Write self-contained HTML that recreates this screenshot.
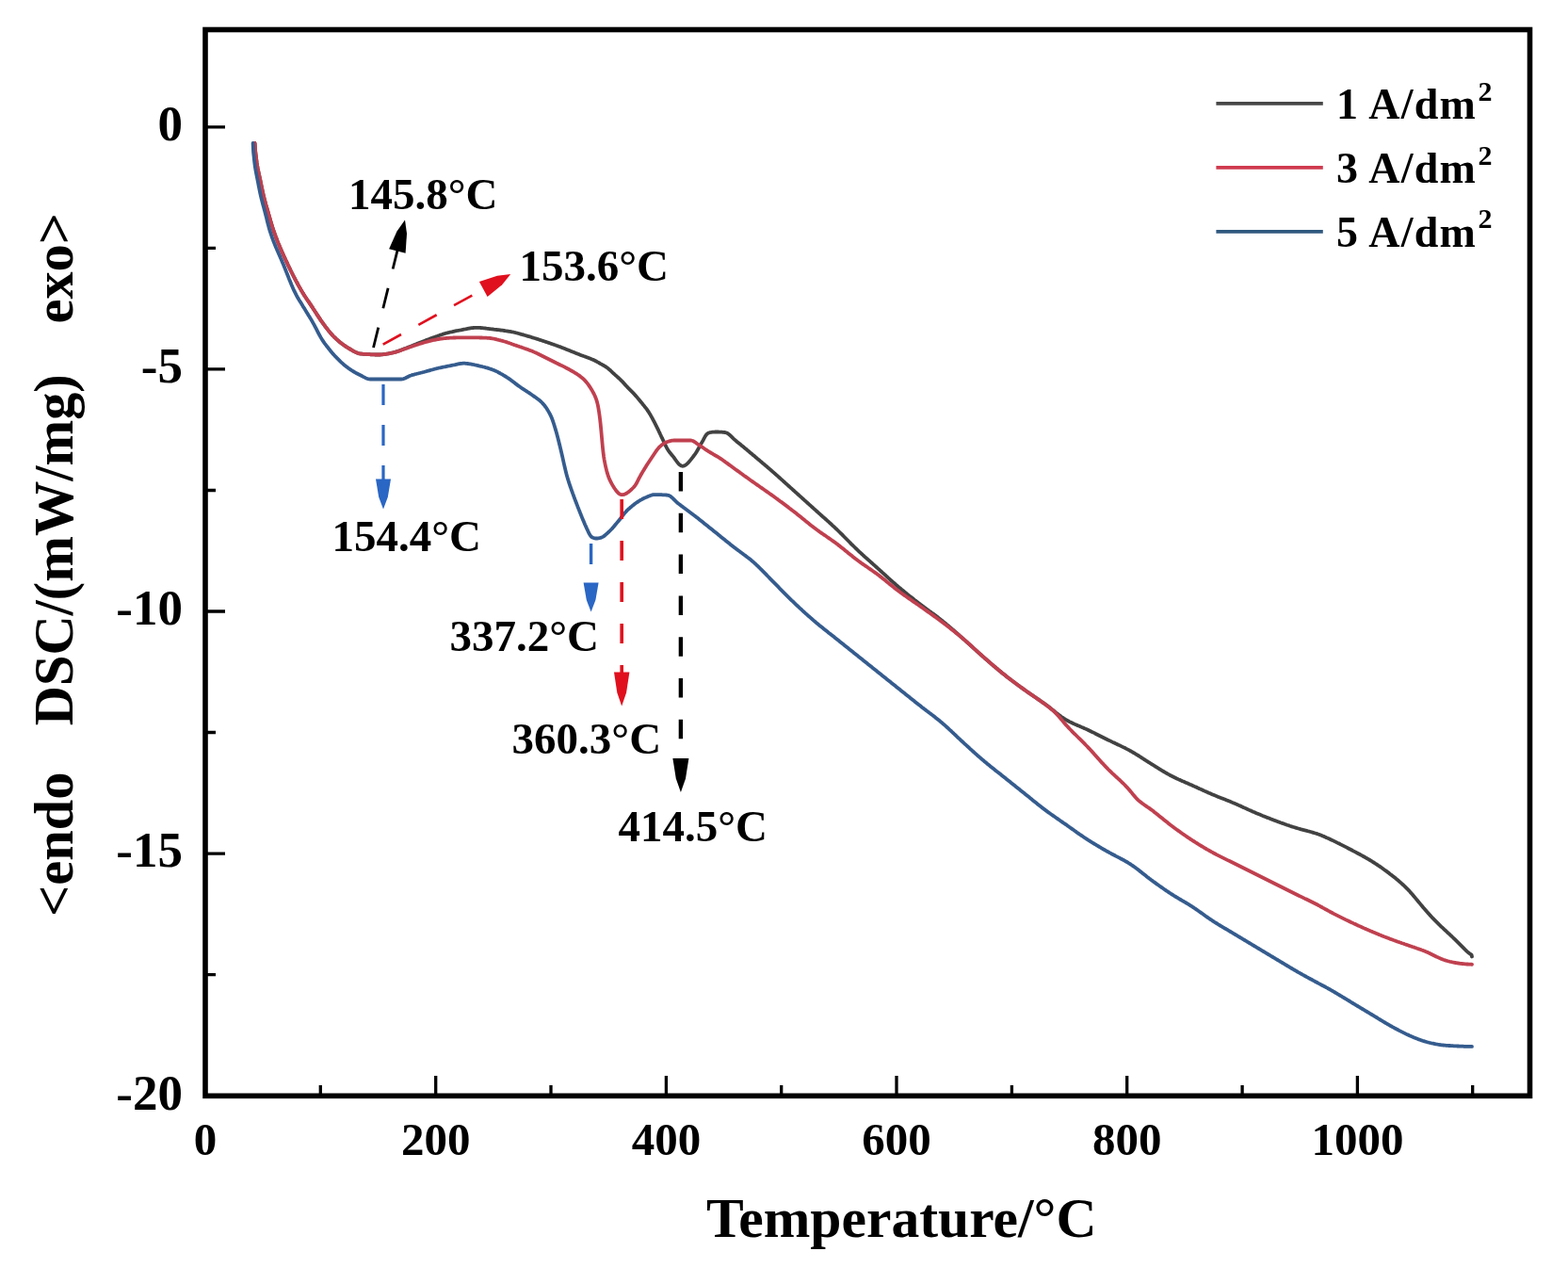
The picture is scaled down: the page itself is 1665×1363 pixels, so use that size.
<!DOCTYPE html>
<html><head><meta charset="utf-8"><title>DSC curves</title>
<style>html,body{margin:0;padding:0;background:#fff;}svg{display:block;}</style>
</head><body>
<svg width="1665" height="1363" viewBox="0 0 1665 1363">
<rect x="218" y="31.5" width="1406.5" height="1131.8" fill="none" stroke="#000" stroke-width="5.6"/>
<path d="M218.0,1163V1142.0 M340.3,1163V1152.0 M462.7,1163V1142.0 M585.0,1163V1152.0 M707.4,1163V1142.0 M829.7,1163V1152.0 M952.0,1163V1142.0 M1074.4,1163V1152.0 M1196.7,1163V1142.0 M1319.1,1163V1152.0 M1441.4,1163V1142.0 M1563.7,1163V1152.0 M218,134.8H239.0 M218,263.4H229.0 M218,391.9H239.0 M218,520.5H229.0 M218,649.0H239.0 M218,777.5H229.0 M218,906.1H239.0 M218,1034.7H229.0 M218,1163.2H239.0" stroke="#000" stroke-width="3.3" fill="none"/>
<g fill="none" stroke-width="3.8" stroke-linejoin="round" stroke-linecap="round">
<path d="M270.6,152.0 L271.1,160.1 L271.6,164.2 L272.1,168.3 L272.6,172.2 L273.1,175.5 L273.6,178.4 L274.1,180.9 L274.6,183.2 L275.1,185.5 L275.6,187.7 L276.1,190.0 L276.6,192.4 L277.1,194.9 L277.6,197.3 L278.1,199.7 L278.6,202.1 L279.1,204.4 L279.6,206.7 L280.1,208.8 L280.6,210.8 L281.1,212.7 L281.6,214.6 L282.1,216.4 L282.6,218.2 L283.1,219.9 L283.6,221.6 L284.1,223.3 L284.6,225.1 L285.1,226.8 L285.6,228.6 L286.1,230.3 L286.6,232.1 L287.1,233.8 L287.6,235.6 L288.1,237.3 L288.6,238.9 L289.1,240.5 L289.6,242.1 L290.1,243.6 L290.6,245.1 L291.1,246.5 L291.6,247.9 L292.1,249.3 L292.6,250.7 L293.1,252.0 L293.6,253.3 L294.1,254.6 L294.6,255.9 L295.1,257.1 L295.6,258.4 L296.1,259.6 L296.6,260.8 L297.1,262.0 L297.6,263.2 L298.1,264.4 L298.6,265.5 L299.1,266.7 L299.6,267.8 L300.1,268.9 L300.6,270.0 L301.1,271.1 L301.6,272.2 L302.1,273.3 L302.6,274.4 L303.1,275.5 L303.6,276.5 L304.1,277.6 L304.6,278.7 L305.1,279.7 L305.6,280.8 L306.1,281.8 L306.6,282.9 L307.1,283.9 L307.6,284.9 L308.1,286.0 L308.6,287.0 L309.1,288.0 L309.6,289.0 L310.6,291.0 L311.6,293.0 L312.6,294.9 L313.6,296.8 L314.6,298.7 L315.6,300.5 L316.6,302.4 L317.6,304.2 L318.6,305.9 L319.6,307.7 L320.6,309.4 L321.6,311.1 L322.6,312.7 L323.6,314.3 L324.6,315.8 L325.6,317.3 L326.6,318.7 L327.6,320.2 L328.6,321.6 L329.6,323.1 L330.6,324.6 L331.6,326.1 L332.6,327.7 L333.6,329.2 L334.6,330.8 L335.6,332.3 L336.6,333.9 L337.6,335.4 L338.6,336.9 L339.6,338.4 L340.6,339.9 L341.6,341.3 L342.6,342.7 L343.6,344.1 L344.6,345.4 L345.6,346.8 L346.6,348.1 L347.6,349.4 L348.6,350.7 L349.6,351.9 L350.6,353.1 L351.6,354.3 L352.6,355.4 L353.6,356.5 L354.6,357.5 L355.6,358.4 L356.6,359.4 L357.6,360.3 L358.6,361.2 L359.6,362.1 L360.6,362.9 L361.6,363.7 L362.6,364.5 L363.6,365.3 L364.6,366.0 L365.6,366.7 L366.6,367.4 L367.6,368.1 L368.6,368.7 L369.6,369.3 L370.6,369.9 L371.6,370.5 L372.6,371.1 L373.6,371.7 L374.6,372.3 L375.6,372.9 L376.6,373.4 L377.6,373.9 L378.6,374.3 L379.6,374.7 L380.6,375.1 L381.6,375.3 L382.6,375.5 L383.6,375.6 L384.6,375.7 L385.6,375.8 L386.6,375.9 L387.6,375.9 L388.6,376.0 L389.6,376.1 L390.6,376.1 L391.6,376.2 L392.6,376.2 L393.6,376.3 L394.6,376.3 L395.6,376.4 L396.6,376.4 L397.6,376.4 L398.6,376.5 L399.6,376.5 L400.6,376.5 L401.6,376.5 L402.6,376.5 L403.6,376.5 L404.6,376.4 L405.6,376.3 L406.6,376.2 L407.6,376.1 L408.6,376.0 L409.6,375.8 L410.6,375.7 L411.6,375.5 L412.6,375.3 L413.6,375.1 L414.6,374.9 L415.6,374.7 L416.6,374.5 L417.6,374.2 L418.6,374.0 L419.6,373.7 L420.6,373.4 L421.6,373.1 L422.6,372.8 L423.6,372.4 L424.6,372.1 L425.6,371.7 L426.6,371.3 L427.6,370.9 L428.6,370.5 L429.6,370.1 L430.6,369.8 L431.6,369.4 L432.6,369.0 L433.6,368.6 L434.6,368.2 L435.6,367.9 L436.6,367.5 L437.6,367.1 L438.6,366.6 L439.6,366.2 L440.6,365.8 L441.6,365.4 L442.6,365.0 L443.6,364.6 L444.6,364.2 L445.6,363.8 L446.6,363.4 L447.6,363.1 L448.6,362.7 L449.6,362.3 L450.6,361.9 L451.6,361.5 L452.6,361.1 L453.6,360.7 L454.6,360.3 L455.6,360.0 L456.6,359.6 L457.6,359.2 L458.6,358.8 L459.6,358.5 L460.6,358.1 L461.6,357.8 L462.6,357.4 L463.6,357.0 L464.6,356.7 L465.6,356.3 L466.6,356.0 L467.6,355.6 L468.6,355.3 L469.6,355.0 L470.6,354.6 L471.6,354.3 L472.6,354.0 L473.6,353.7 L474.6,353.5 L475.6,353.2 L476.6,353.0 L477.6,352.7 L478.6,352.5 L479.6,352.3 L480.6,352.1 L481.6,351.8 L482.6,351.6 L483.6,351.4 L484.6,351.2 L485.6,351.0 L486.6,350.8 L487.6,350.7 L488.6,350.5 L489.6,350.3 L490.6,350.1 L491.6,349.9 L492.6,349.7 L493.6,349.5 L494.6,349.3 L495.6,349.1 L496.6,348.9 L497.6,348.7 L498.6,348.5 L499.6,348.4 L500.6,348.2 L501.6,348.1 L502.6,348.0 L503.6,347.9 L504.6,347.8 L505.6,347.8 L506.6,347.8 L507.6,347.8 L508.6,347.9 L509.6,347.9 L510.6,348.0 L511.6,348.1 L512.6,348.2 L513.6,348.3 L514.6,348.4 L515.6,348.5 L516.6,348.7 L517.6,348.8 L518.6,348.9 L519.6,349.1 L520.6,349.2 L521.6,349.3 L522.6,349.4 L523.6,349.5 L524.6,349.7 L525.6,349.8 L526.6,349.9 L527.6,350.0 L528.6,350.1 L529.6,350.2 L530.6,350.4 L531.6,350.5 L532.6,350.6 L533.6,350.7 L534.6,350.9 L535.6,351.0 L536.6,351.2 L537.6,351.3 L538.6,351.5 L539.6,351.6 L540.6,351.8 L541.6,351.9 L542.6,352.1 L543.6,352.3 L544.6,352.5 L545.6,352.7 L546.6,353.0 L547.6,353.2 L548.6,353.5 L549.6,353.7 L550.6,354.0 L551.6,354.3 L552.6,354.6 L553.6,354.9 L554.6,355.1 L555.6,355.4 L556.6,355.7 L557.6,356.0 L558.6,356.3 L559.6,356.6 L560.6,356.9 L561.6,357.2 L562.6,357.4 L563.6,357.7 L564.6,358.1 L565.6,358.4 L566.6,358.7 L567.6,359.0 L568.6,359.3 L569.6,359.6 L570.6,359.9 L571.6,360.2 L572.6,360.6 L573.6,360.9 L574.6,361.2 L575.6,361.5 L576.6,361.9 L577.6,362.2 L578.6,362.5 L579.6,362.9 L580.6,363.2 L581.6,363.5 L582.6,363.9 L583.6,364.2 L584.6,364.6 L585.6,364.9 L586.6,365.3 L587.6,365.6 L588.6,366.0 L589.6,366.3 L590.6,366.7 L591.6,367.0 L592.6,367.4 L593.6,367.8 L594.6,368.1 L595.6,368.5 L596.6,368.9 L597.6,369.3 L598.6,369.7 L599.6,370.1 L600.6,370.5 L601.6,370.9 L602.6,371.3 L603.6,371.7 L604.6,372.1 L605.6,372.5 L606.6,372.9 L607.6,373.3 L608.6,373.7 L609.6,374.1 L610.6,374.5 L611.6,374.9 L612.6,375.3 L613.6,375.7 L614.6,376.1 L615.6,376.5 L616.6,376.9 L617.6,377.3 L618.6,377.6 L619.6,378.0 L620.6,378.3 L621.6,378.7 L622.6,379.1 L623.6,379.4 L624.6,379.8 L625.6,380.2 L626.6,380.6 L627.6,381.0 L628.6,381.4 L629.6,381.8 L630.6,382.3 L631.6,382.8 L632.6,383.3 L633.6,383.8 L634.6,384.4 L635.6,384.9 L636.6,385.5 L637.6,386.1 L638.6,386.6 L639.6,387.2 L640.6,387.7 L641.6,388.3 L642.6,388.9 L643.6,389.6 L644.6,390.3 L645.6,391.0 L646.6,391.9 L647.6,392.7 L648.6,393.7 L649.6,394.6 L650.6,395.6 L651.6,396.5 L652.6,397.4 L653.6,398.3 L654.6,399.2 L655.6,400.1 L656.6,401.0 L657.6,401.9 L658.6,402.8 L659.6,403.8 L660.6,404.8 L661.6,405.9 L662.6,407.0 L663.6,408.1 L664.6,409.2 L665.6,410.3 L666.6,411.4 L667.6,412.4 L668.6,413.4 L669.6,414.4 L670.6,415.4 L671.6,416.4 L672.6,417.4 L673.6,418.5 L674.6,419.6 L675.6,420.7 L676.6,421.9 L677.6,423.1 L678.6,424.3 L679.6,425.5 L680.6,426.7 L681.6,427.9 L682.6,429.2 L683.6,430.4 L684.6,431.7 L685.6,432.9 L686.6,434.2 L687.6,435.6 L688.6,437.1 L689.6,438.7 L690.6,440.3 L691.6,442.1 L692.6,443.9 L693.6,445.8 L694.6,447.7 L695.6,449.6 L696.6,451.6 L697.1,452.6 L697.6,453.6 L698.1,454.6 L698.6,455.7 L699.1,456.7 L699.6,457.8 L700.1,458.8 L700.6,459.9 L701.1,461.0 L701.6,462.0 L702.1,463.1 L702.6,464.1 L703.1,465.2 L703.6,466.2 L704.1,467.3 L704.6,468.4 L705.1,469.5 L705.6,470.5 L706.1,471.6 L706.6,472.7 L707.6,474.7 L708.6,476.5 L709.6,478.1 L710.6,479.5 L711.6,480.8 L712.6,482.0 L713.6,483.2 L714.6,484.4 L715.6,485.7 L716.6,487.1 L717.6,488.5 L718.6,489.9 L719.6,491.2 L720.6,492.3 L721.6,493.3 L722.6,494.0 L723.6,494.5 L724.6,494.8 L725.6,494.7 L726.6,494.4 L727.6,493.9 L728.6,493.2 L729.6,492.3 L730.6,491.4 L731.6,490.3 L732.6,489.1 L733.6,487.9 L734.6,486.6 L735.6,485.3 L736.6,484.0 L737.6,482.7 L738.6,481.3 L739.6,479.7 L740.6,478.0 L741.6,476.3 L742.6,474.4 L743.6,472.6 L744.6,470.9 L745.6,469.1 L746.6,467.3 L747.6,465.4 L748.6,463.6 L749.6,462.0 L750.6,460.8 L751.6,459.9 L752.6,459.5 L753.6,459.2 L754.6,459.0 L755.6,458.8 L756.6,458.7 L757.6,458.6 L758.6,458.6 L759.6,458.5 L760.6,458.5 L761.6,458.5 L762.6,458.5 L763.6,458.6 L764.6,458.6 L765.6,458.7 L766.6,458.7 L767.6,458.8 L768.6,458.9 L769.6,459.0 L770.6,459.2 L771.6,459.5 L772.6,460.0 L773.6,460.7 L774.6,461.5 L775.6,462.4 L776.6,463.4 L777.6,464.4 L778.6,465.4 L779.6,466.3 L780.6,467.2 L781.6,468.1 L782.6,468.9 L783.6,469.7 L784.6,470.5 L785.6,471.3 L786.6,472.1 L787.6,473.0 L788.6,473.8 L789.6,474.6 L790.6,475.4 L791.6,476.3 L792.6,477.1 L793.6,477.9 L794.6,478.8 L795.6,479.6 L796.6,480.5 L797.6,481.3 L798.6,482.1 L799.6,483.0 L800.6,483.8 L801.6,484.6 L802.6,485.5 L803.6,486.3 L804.6,487.2 L805.6,488.0 L806.6,488.8 L807.6,489.7 L808.6,490.5 L809.6,491.4 L810.6,492.2 L811.6,493.1 L812.6,493.9 L813.6,494.8 L814.6,495.6 L815.6,496.5 L816.6,497.3 L817.6,498.2 L818.6,499.1 L819.6,499.9 L820.6,500.8 L821.6,501.7 L822.6,502.6 L823.6,503.4 L824.6,504.3 L825.6,505.2 L826.6,506.1 L827.6,507.0 L828.6,507.9 L829.6,508.8 L830.6,509.7 L831.6,510.6 L832.6,511.5 L833.6,512.4 L834.6,513.3 L835.6,514.2 L836.6,515.1 L837.6,516.0 L838.6,516.9 L839.6,517.8 L840.6,518.7 L841.6,519.6 L842.6,520.5 L843.6,521.4 L844.6,522.3 L845.6,523.2 L846.6,524.1 L847.6,525.0 L848.6,525.9 L849.6,526.8 L850.6,527.7 L851.6,528.6 L852.6,529.5 L853.6,530.4 L854.6,531.3 L855.6,532.2 L856.6,533.1 L857.6,534.0 L858.6,534.9 L859.6,535.8 L860.6,536.7 L861.6,537.6 L862.6,538.5 L863.6,539.4 L864.6,540.3 L865.6,541.2 L866.6,542.1 L867.6,543.0 L868.6,543.9 L869.6,544.8 L870.6,545.7 L871.6,546.6 L872.6,547.5 L873.6,548.4 L874.6,549.2 L875.6,550.1 L876.6,551.0 L877.6,551.9 L878.6,552.8 L879.6,553.7 L880.6,554.6 L881.6,555.5 L882.6,556.4 L883.6,557.4 L884.6,558.3 L885.6,559.2 L886.6,560.1 L887.6,561.1 L888.6,562.0 L889.6,563.0 L890.6,564.0 L891.6,565.0 L892.6,566.0 L893.6,566.9 L894.6,567.9 L895.6,569.0 L896.6,570.0 L897.6,571.0 L898.6,572.0 L899.6,573.0 L900.6,574.0 L901.6,575.0 L902.6,576.0 L903.6,577.1 L904.6,578.1 L905.6,579.0 L906.6,580.0 L907.6,581.0 L908.6,582.0 L909.6,582.9 L910.6,583.9 L911.6,584.8 L912.6,585.8 L913.6,586.7 L914.6,587.6 L915.6,588.5 L916.6,589.5 L917.6,590.4 L918.6,591.3 L919.6,592.2 L920.6,593.1 L921.6,593.9 L922.6,594.8 L923.6,595.7 L924.6,596.6 L925.6,597.5 L926.6,598.4 L927.6,599.3 L928.6,600.2 L929.6,601.1 L930.6,602.0 L931.6,602.9 L932.6,603.8 L933.6,604.7 L934.6,605.6 L935.6,606.5 L936.6,607.4 L937.6,608.3 L938.6,609.2 L939.6,610.1 L940.6,611.0 L941.6,612.0 L942.6,612.9 L943.6,613.8 L944.6,614.7 L945.6,615.6 L946.6,616.5 L947.6,617.4 L948.6,618.3 L949.6,619.1 L950.6,620.0 L951.6,620.9 L952.6,621.7 L953.6,622.6 L954.6,623.5 L955.6,624.3 L956.6,625.1 L957.6,626.0 L958.6,626.8 L959.6,627.6 L960.6,628.4 L961.6,629.2 L962.6,630.1 L963.6,630.9 L964.6,631.7 L965.6,632.5 L966.6,633.2 L967.6,634.0 L968.6,634.8 L969.6,635.6 L970.6,636.4 L971.6,637.2 L972.6,637.9 L973.6,638.7 L974.6,639.5 L975.6,640.3 L976.6,641.0 L977.6,641.8 L978.6,642.5 L979.6,643.3 L980.6,644.0 L981.6,644.8 L982.6,645.5 L983.6,646.3 L984.6,647.0 L985.6,647.7 L986.6,648.5 L987.6,649.2 L988.6,649.9 L989.6,650.7 L990.6,651.4 L991.6,652.1 L992.6,652.9 L993.6,653.6 L994.6,654.4 L995.6,655.1 L996.6,655.9 L997.6,656.7 L998.6,657.5 L999.6,658.3 L1000.6,659.0 L1001.6,659.9 L1002.6,660.7 L1003.6,661.5 L1004.6,662.3 L1005.6,663.2 L1006.6,664.0 L1007.6,664.8 L1008.6,665.7 L1009.6,666.6 L1010.6,667.4 L1011.6,668.3 L1012.6,669.1 L1013.6,670.0 L1014.6,670.9 L1015.6,671.8 L1016.6,672.6 L1017.6,673.5 L1018.6,674.4 L1019.6,675.3 L1020.6,676.2 L1021.6,677.1 L1022.6,677.9 L1023.6,678.8 L1024.6,679.7 L1025.6,680.6 L1026.6,681.5 L1027.6,682.4 L1028.6,683.3 L1029.6,684.2 L1030.6,685.1 L1031.6,686.0 L1032.6,686.9 L1033.6,687.9 L1034.6,688.8 L1035.6,689.7 L1036.6,690.6 L1037.6,691.5 L1038.6,692.4 L1039.6,693.3 L1040.6,694.2 L1041.6,695.1 L1042.6,695.9 L1043.6,696.8 L1044.6,697.7 L1045.6,698.6 L1046.6,699.5 L1047.6,700.3 L1048.6,701.2 L1049.6,702.1 L1050.6,702.9 L1051.6,703.8 L1052.6,704.7 L1053.6,705.5 L1054.6,706.4 L1055.6,707.2 L1056.6,708.1 L1057.6,708.9 L1058.6,709.8 L1059.6,710.6 L1060.6,711.5 L1061.6,712.3 L1062.6,713.1 L1063.6,713.9 L1064.6,714.7 L1065.6,715.5 L1066.6,716.3 L1067.6,717.1 L1068.6,717.9 L1069.6,718.7 L1070.6,719.5 L1071.6,720.2 L1072.6,721.0 L1073.6,721.8 L1074.6,722.5 L1075.6,723.3 L1076.6,724.0 L1077.6,724.8 L1078.6,725.5 L1079.6,726.3 L1080.6,727.0 L1081.6,727.7 L1082.6,728.5 L1083.6,729.2 L1084.6,729.9 L1085.6,730.6 L1086.6,731.4 L1087.6,732.1 L1088.6,732.8 L1089.6,733.5 L1090.6,734.2 L1091.6,734.9 L1092.6,735.6 L1093.6,736.3 L1094.6,737.0 L1095.6,737.6 L1096.6,738.3 L1097.6,739.0 L1098.6,739.7 L1099.6,740.3 L1100.6,741.0 L1101.6,741.7 L1102.6,742.4 L1103.6,743.1 L1104.6,743.8 L1105.6,744.4 L1106.6,745.2 L1107.6,745.9 L1108.6,746.6 L1109.6,747.3 L1110.6,748.1 L1111.6,748.8 L1112.6,749.6 L1113.6,750.3 L1114.6,751.1 L1115.6,751.9 L1116.6,752.7 L1117.6,753.5 L1118.6,754.3 L1119.6,755.1 L1120.6,756.0 L1121.6,756.8 L1122.6,757.5 L1123.6,758.3 L1124.6,759.1 L1125.6,759.8 L1126.6,760.6 L1127.6,761.3 L1128.6,761.9 L1129.6,762.6 L1130.6,763.2 L1131.6,763.9 L1132.6,764.4 L1133.6,765.0 L1134.6,765.5 L1135.6,766.1 L1136.6,766.6 L1137.6,767.0 L1138.6,767.5 L1139.6,768.0 L1140.6,768.4 L1141.6,768.9 L1142.6,769.3 L1143.6,769.7 L1144.6,770.2 L1145.6,770.6 L1146.6,771.0 L1147.6,771.4 L1148.6,771.9 L1149.6,772.3 L1150.6,772.7 L1151.6,773.2 L1152.6,773.6 L1153.6,774.1 L1154.6,774.5 L1155.6,775.0 L1156.6,775.5 L1157.6,776.0 L1158.6,776.5 L1159.6,777.0 L1160.6,777.4 L1161.6,777.9 L1162.6,778.4 L1163.6,779.0 L1164.6,779.5 L1165.6,780.0 L1166.6,780.5 L1167.6,781.0 L1168.6,781.5 L1169.6,782.0 L1170.6,782.5 L1171.6,783.0 L1172.6,783.5 L1173.6,784.0 L1174.6,784.5 L1175.6,785.0 L1176.6,785.5 L1177.6,785.9 L1178.6,786.4 L1179.6,786.9 L1180.6,787.4 L1181.6,787.9 L1182.6,788.3 L1183.6,788.8 L1184.6,789.3 L1185.6,789.7 L1186.6,790.2 L1187.6,790.7 L1188.6,791.1 L1189.6,791.6 L1190.6,792.1 L1191.6,792.6 L1192.6,793.1 L1193.6,793.6 L1194.6,794.0 L1195.6,794.6 L1196.6,795.1 L1197.6,795.6 L1198.6,796.1 L1199.6,796.7 L1200.6,797.2 L1201.6,797.8 L1202.6,798.4 L1203.6,799.0 L1204.6,799.5 L1205.6,800.2 L1206.6,800.8 L1207.6,801.4 L1208.6,802.0 L1209.6,802.6 L1210.6,803.3 L1211.6,803.9 L1212.6,804.6 L1213.6,805.2 L1214.6,805.9 L1215.6,806.5 L1216.6,807.2 L1217.6,807.8 L1218.6,808.4 L1219.6,809.1 L1220.6,809.7 L1221.6,810.3 L1222.6,811.0 L1223.6,811.6 L1224.6,812.2 L1225.6,812.8 L1226.6,813.5 L1227.6,814.1 L1228.6,814.7 L1229.6,815.3 L1230.6,816.0 L1231.6,816.6 L1232.6,817.2 L1233.6,817.8 L1234.6,818.4 L1235.6,819.0 L1236.6,819.6 L1237.6,820.2 L1238.6,820.8 L1239.6,821.3 L1240.6,821.9 L1241.6,822.4 L1242.6,823.0 L1243.6,823.5 L1244.6,824.0 L1245.6,824.5 L1246.6,825.0 L1247.6,825.5 L1248.6,826.0 L1249.6,826.5 L1250.6,826.9 L1251.6,827.4 L1252.6,827.8 L1253.6,828.3 L1254.6,828.7 L1255.6,829.2 L1256.6,829.6 L1257.6,830.0 L1258.6,830.5 L1259.6,830.9 L1260.6,831.3 L1261.6,831.8 L1262.6,832.2 L1263.6,832.7 L1264.6,833.1 L1265.6,833.5 L1266.6,834.0 L1267.6,834.4 L1268.6,834.9 L1269.6,835.3 L1270.6,835.8 L1271.6,836.3 L1272.6,836.7 L1273.6,837.2 L1274.6,837.6 L1275.6,838.1 L1276.6,838.5 L1277.6,839.0 L1278.6,839.4 L1279.6,839.9 L1280.6,840.3 L1281.6,840.8 L1282.6,841.2 L1283.6,841.7 L1284.6,842.1 L1285.6,842.5 L1286.6,843.0 L1287.6,843.4 L1288.6,843.8 L1289.6,844.2 L1290.6,844.6 L1291.6,845.1 L1292.6,845.5 L1293.6,845.9 L1294.6,846.3 L1295.6,846.7 L1296.6,847.1 L1297.6,847.4 L1298.6,847.8 L1299.6,848.2 L1300.6,848.6 L1301.6,849.0 L1302.6,849.4 L1303.6,849.8 L1304.6,850.2 L1305.6,850.6 L1306.6,851.0 L1307.6,851.4 L1308.6,851.9 L1309.6,852.3 L1310.6,852.7 L1311.6,853.1 L1312.6,853.6 L1313.6,854.0 L1314.6,854.4 L1315.6,854.9 L1316.6,855.3 L1317.6,855.8 L1318.6,856.3 L1319.6,856.7 L1320.6,857.2 L1321.6,857.6 L1322.6,858.1 L1323.6,858.5 L1324.6,859.0 L1325.6,859.4 L1326.6,859.9 L1327.6,860.3 L1328.6,860.8 L1329.6,861.2 L1330.6,861.7 L1331.6,862.1 L1332.6,862.5 L1333.6,863.0 L1334.6,863.4 L1335.6,863.8 L1336.6,864.2 L1337.6,864.6 L1338.6,865.0 L1339.6,865.4 L1340.6,865.9 L1341.6,866.3 L1342.6,866.7 L1343.6,867.1 L1344.6,867.5 L1345.6,867.9 L1346.6,868.2 L1347.6,868.6 L1348.6,869.0 L1349.6,869.4 L1350.6,869.8 L1351.6,870.2 L1352.6,870.6 L1353.6,870.9 L1354.6,871.3 L1355.6,871.7 L1356.6,872.1 L1357.6,872.4 L1358.6,872.8 L1359.6,873.2 L1360.6,873.5 L1361.6,873.9 L1362.6,874.2 L1363.6,874.6 L1364.6,875.0 L1365.6,875.3 L1366.6,875.7 L1367.6,876.0 L1368.6,876.3 L1369.6,876.7 L1370.6,877.0 L1371.6,877.4 L1372.6,877.7 L1373.6,878.0 L1374.6,878.3 L1375.6,878.6 L1376.6,878.9 L1377.6,879.2 L1378.6,879.5 L1379.6,879.8 L1380.6,880.1 L1381.6,880.4 L1382.6,880.6 L1383.6,880.9 L1384.6,881.2 L1385.6,881.4 L1386.6,881.7 L1387.6,881.9 L1388.6,882.2 L1389.6,882.5 L1390.6,882.7 L1391.6,883.0 L1392.6,883.3 L1393.6,883.6 L1394.6,883.9 L1395.6,884.2 L1396.6,884.5 L1397.6,884.8 L1398.6,885.1 L1399.6,885.5 L1400.6,885.8 L1401.6,886.2 L1402.6,886.6 L1403.6,887.0 L1404.6,887.4 L1405.6,887.8 L1406.6,888.3 L1407.6,888.7 L1408.6,889.2 L1409.6,889.6 L1410.6,890.1 L1411.6,890.5 L1412.6,891.0 L1413.6,891.5 L1414.6,891.9 L1415.6,892.4 L1416.6,892.9 L1417.6,893.4 L1418.6,893.9 L1419.6,894.4 L1420.6,894.9 L1421.6,895.3 L1422.6,895.8 L1423.6,896.4 L1424.6,896.9 L1425.6,897.4 L1426.6,897.9 L1427.6,898.4 L1428.6,898.9 L1429.6,899.4 L1430.6,899.9 L1431.6,900.5 L1432.6,901.0 L1433.6,901.5 L1434.6,902.0 L1435.6,902.5 L1436.6,903.1 L1437.6,903.6 L1438.6,904.1 L1439.6,904.6 L1440.6,905.2 L1441.6,905.7 L1442.6,906.2 L1443.6,906.8 L1444.6,907.3 L1445.6,907.9 L1446.6,908.4 L1447.6,909.0 L1448.6,909.5 L1449.6,910.1 L1450.6,910.7 L1451.6,911.2 L1452.6,911.8 L1453.6,912.4 L1454.6,913.0 L1455.6,913.6 L1456.6,914.2 L1457.6,914.9 L1458.6,915.5 L1459.6,916.1 L1460.6,916.8 L1461.6,917.4 L1462.6,918.1 L1463.6,918.8 L1464.6,919.4 L1465.6,920.1 L1466.6,920.8 L1467.6,921.5 L1468.6,922.2 L1469.6,923.0 L1470.6,923.7 L1471.6,924.4 L1472.6,925.1 L1473.6,925.9 L1474.6,926.6 L1475.6,927.4 L1476.6,928.2 L1477.6,928.9 L1478.6,929.7 L1479.6,930.5 L1480.6,931.3 L1481.6,932.1 L1482.6,932.9 L1483.6,933.8 L1484.6,934.6 L1485.6,935.4 L1486.6,936.3 L1487.6,937.2 L1488.6,938.1 L1489.6,939.0 L1490.6,939.9 L1491.6,940.8 L1492.6,941.8 L1493.6,942.8 L1494.6,943.8 L1495.6,944.9 L1496.6,945.9 L1497.6,947.1 L1498.6,948.2 L1499.6,949.3 L1500.6,950.5 L1501.6,951.7 L1502.6,952.9 L1503.6,954.1 L1504.6,955.3 L1505.6,956.5 L1506.6,957.7 L1507.6,958.9 L1508.6,960.1 L1509.6,961.3 L1510.6,962.5 L1511.6,963.7 L1512.6,964.8 L1513.6,966.0 L1514.6,967.1 L1515.6,968.3 L1516.6,969.4 L1517.6,970.5 L1518.6,971.6 L1519.6,972.7 L1520.6,973.8 L1521.6,974.8 L1522.6,975.9 L1523.6,976.9 L1524.6,977.9 L1525.6,978.9 L1526.6,979.9 L1527.6,980.9 L1528.6,981.9 L1529.6,982.8 L1530.6,983.8 L1531.6,984.7 L1532.6,985.6 L1533.6,986.6 L1534.6,987.5 L1535.6,988.4 L1536.6,989.3 L1537.6,990.3 L1538.6,991.2 L1539.6,992.2 L1540.6,993.1 L1541.6,994.0 L1542.6,995.0 L1543.6,996.0 L1544.6,996.9 L1545.6,997.9 L1546.6,998.9 L1547.6,999.9 L1548.6,1000.9 L1549.6,1001.9 L1550.6,1002.9 L1551.6,1003.9 L1552.6,1004.9 L1553.6,1005.9 L1554.6,1006.9 L1555.6,1007.9 L1556.6,1008.8 L1557.6,1009.8 L1558.6,1010.7 L1559.6,1011.5 L1560.6,1012.3 L1561.6,1013.0 L1562.6,1013.6 L1563.0,1015.5" stroke="#424242"/>
<path d="M270.6,152.0 L271.1,160.1 L271.6,164.2 L272.1,168.3 L272.6,172.2 L273.1,175.5 L273.6,178.4 L274.1,180.9 L274.6,183.2 L275.1,185.5 L275.6,187.7 L276.1,190.0 L276.6,192.4 L277.1,194.9 L277.6,197.3 L278.1,199.7 L278.6,202.1 L279.1,204.4 L279.6,206.7 L280.1,208.8 L280.6,210.8 L281.1,212.7 L281.6,214.6 L282.1,216.4 L282.6,218.2 L283.1,219.9 L283.6,221.6 L284.1,223.3 L284.6,225.1 L285.1,226.8 L285.6,228.6 L286.1,230.3 L286.6,232.1 L287.1,233.8 L287.6,235.6 L288.1,237.3 L288.6,238.9 L289.1,240.5 L289.6,242.1 L290.1,243.6 L290.6,245.1 L291.1,246.5 L291.6,247.9 L292.1,249.3 L292.6,250.7 L293.1,252.0 L293.6,253.3 L294.1,254.6 L294.6,255.9 L295.1,257.1 L295.6,258.4 L296.1,259.6 L296.6,260.8 L297.1,262.0 L297.6,263.2 L298.1,264.4 L298.6,265.5 L299.1,266.7 L299.6,267.8 L300.1,268.9 L300.6,270.0 L301.1,271.1 L301.6,272.2 L302.1,273.3 L302.6,274.4 L303.1,275.5 L303.6,276.5 L304.1,277.6 L304.6,278.7 L305.1,279.7 L305.6,280.8 L306.1,281.8 L306.6,282.9 L307.1,283.9 L307.6,284.9 L308.1,286.0 L308.6,287.0 L309.1,288.0 L309.6,289.0 L310.6,291.0 L311.6,293.0 L312.6,294.9 L313.6,296.8 L314.6,298.7 L315.6,300.5 L316.6,302.4 L317.6,304.2 L318.6,305.9 L319.6,307.7 L320.6,309.4 L321.6,311.1 L322.6,312.7 L323.6,314.3 L324.6,315.8 L325.6,317.3 L326.6,318.7 L327.6,320.2 L328.6,321.6 L329.6,323.1 L330.6,324.6 L331.6,326.1 L332.6,327.7 L333.6,329.2 L334.6,330.8 L335.6,332.3 L336.6,333.9 L337.6,335.4 L338.6,336.9 L339.6,338.4 L340.6,339.9 L341.6,341.3 L342.6,342.7 L343.6,344.1 L344.6,345.4 L345.6,346.8 L346.6,348.1 L347.6,349.4 L348.6,350.7 L349.6,351.9 L350.6,353.1 L351.6,354.3 L352.6,355.4 L353.6,356.5 L354.6,357.5 L355.6,358.4 L356.6,359.4 L357.6,360.3 L358.6,361.2 L359.6,362.1 L360.6,362.9 L361.6,363.7 L362.6,364.5 L363.6,365.3 L364.6,366.0 L365.6,366.7 L366.6,367.4 L367.6,368.1 L368.6,368.7 L369.6,369.3 L370.6,369.9 L371.6,370.5 L372.6,371.1 L373.6,371.7 L374.6,372.3 L375.6,372.9 L376.6,373.4 L377.6,373.9 L378.6,374.3 L379.6,374.7 L380.6,375.1 L381.6,375.3 L382.6,375.5 L383.6,375.6 L384.6,375.7 L385.6,375.8 L386.6,375.9 L387.6,375.9 L388.6,376.0 L389.6,376.1 L390.6,376.1 L391.6,376.2 L392.6,376.2 L393.6,376.3 L394.6,376.3 L395.6,376.4 L396.6,376.4 L397.6,376.4 L398.6,376.5 L399.6,376.5 L400.6,376.5 L401.6,376.5 L402.6,376.5 L403.6,376.5 L404.6,376.4 L405.6,376.4 L406.6,376.3 L407.6,376.2 L408.6,376.0 L409.6,375.9 L410.6,375.7 L411.6,375.6 L412.6,375.4 L413.6,375.2 L414.6,375.0 L415.6,374.8 L416.6,374.7 L417.6,374.4 L418.6,374.2 L419.6,373.9 L420.6,373.6 L421.6,373.3 L422.6,373.0 L423.6,372.6 L424.6,372.3 L425.6,371.9 L426.6,371.5 L427.6,371.1 L428.6,370.8 L429.6,370.4 L430.6,370.0 L431.6,369.7 L432.6,369.4 L433.6,369.0 L434.6,368.7 L435.6,368.3 L436.6,368.0 L437.6,367.6 L438.6,367.3 L439.6,367.0 L440.6,366.6 L441.6,366.3 L442.6,366.0 L443.6,365.7 L444.6,365.3 L445.6,365.0 L446.6,364.7 L447.6,364.4 L448.6,364.1 L449.6,363.8 L450.6,363.5 L451.6,363.2 L452.6,363.0 L453.6,362.7 L454.6,362.4 L455.6,362.1 L456.6,361.9 L457.6,361.6 L458.6,361.4 L459.6,361.2 L460.6,361.0 L461.6,360.8 L462.6,360.6 L463.6,360.4 L464.6,360.2 L465.6,360.1 L466.6,359.9 L467.6,359.7 L468.6,359.6 L469.6,359.4 L470.6,359.3 L471.6,359.2 L472.6,359.1 L473.6,359.0 L474.6,358.9 L475.6,358.8 L476.6,358.8 L477.6,358.7 L478.6,358.7 L479.6,358.6 L480.6,358.6 L481.6,358.5 L482.6,358.5 L483.6,358.5 L484.6,358.4 L485.6,358.4 L486.6,358.4 L487.6,358.4 L488.6,358.4 L489.6,358.4 L490.6,358.4 L491.6,358.3 L492.6,358.3 L493.6,358.3 L494.6,358.3 L495.6,358.3 L496.6,358.3 L497.6,358.3 L498.6,358.3 L499.6,358.3 L500.6,358.3 L501.6,358.3 L502.6,358.3 L503.6,358.3 L504.6,358.3 L505.6,358.4 L506.6,358.4 L507.6,358.4 L508.6,358.4 L509.6,358.5 L510.6,358.5 L511.6,358.5 L512.6,358.6 L513.6,358.6 L514.6,358.6 L515.6,358.7 L516.6,358.7 L517.6,358.8 L518.6,358.8 L519.6,358.9 L520.6,359.0 L521.6,359.1 L522.6,359.3 L523.6,359.5 L524.6,359.7 L525.6,359.9 L526.6,360.1 L527.6,360.4 L528.6,360.6 L529.6,360.9 L530.6,361.1 L531.6,361.4 L532.6,361.6 L533.6,361.9 L534.6,362.2 L535.6,362.5 L536.6,362.8 L537.6,363.1 L538.6,363.4 L539.6,363.8 L540.6,364.1 L541.6,364.5 L542.6,364.8 L543.6,365.2 L544.6,365.5 L545.6,365.9 L546.6,366.3 L547.6,366.6 L548.6,366.9 L549.6,367.3 L550.6,367.6 L551.6,368.0 L552.6,368.3 L553.6,368.6 L554.6,369.0 L555.6,369.3 L556.6,369.7 L557.6,370.0 L558.6,370.4 L559.6,370.7 L560.6,371.1 L561.6,371.5 L562.6,371.9 L563.6,372.2 L564.6,372.6 L565.6,373.0 L566.6,373.4 L567.6,373.9 L568.6,374.3 L569.6,374.8 L570.6,375.2 L571.6,375.7 L572.6,376.2 L573.6,376.7 L574.6,377.2 L575.6,377.7 L576.6,378.2 L577.6,378.7 L578.6,379.3 L579.6,379.8 L580.6,380.3 L581.6,380.8 L582.6,381.3 L583.6,381.8 L584.6,382.3 L585.6,382.8 L586.6,383.3 L587.6,383.8 L588.6,384.3 L589.6,384.8 L590.6,385.3 L591.6,385.7 L592.6,386.2 L593.6,386.7 L594.6,387.2 L595.6,387.7 L596.6,388.1 L597.6,388.6 L598.6,389.1 L599.6,389.6 L600.6,390.2 L601.6,390.7 L602.6,391.2 L603.6,391.8 L604.6,392.3 L605.6,392.9 L606.6,393.5 L607.6,394.0 L608.6,394.6 L609.6,395.2 L610.6,395.8 L611.6,396.4 L612.6,397.0 L613.6,397.7 L614.6,398.4 L615.6,399.1 L616.6,399.9 L617.6,400.7 L618.6,401.5 L619.6,402.4 L620.6,403.4 L621.6,404.5 L622.6,405.6 L623.6,406.9 L624.6,408.2 L625.6,409.6 L626.6,411.1 L627.6,412.7 L628.6,414.3 L629.6,416.1 L630.6,418.0 L631.1,419.0 L631.6,420.0 L632.1,421.2 L632.6,422.4 L633.1,423.8 L633.6,425.4 L634.1,427.1 L634.6,429.1 L635.1,431.5 L635.6,434.3 L636.1,437.5 L636.6,441.0 L637.1,445.0 L637.6,449.5 L638.1,454.5 L638.6,459.9 L639.1,465.6 L639.6,471.2 L640.1,476.4 L640.6,480.8 L641.1,484.6 L641.6,487.8 L642.1,490.5 L642.6,493.0 L643.1,495.3 L643.6,497.4 L644.1,499.4 L644.6,501.2 L645.1,502.9 L645.6,504.5 L646.1,506.0 L646.6,507.3 L647.1,508.5 L647.6,509.7 L648.6,511.7 L649.6,513.6 L650.6,515.3 L651.6,516.9 L652.6,518.5 L653.6,519.9 L654.6,521.3 L655.6,522.4 L656.6,523.4 L657.6,524.2 L658.6,524.8 L659.6,525.1 L660.6,525.2 L661.6,525.1 L662.6,524.9 L663.6,524.5 L664.6,524.1 L665.6,523.5 L666.6,522.8 L667.6,522.1 L668.6,521.3 L669.6,520.4 L670.6,519.5 L671.6,518.5 L672.6,517.5 L673.6,516.4 L674.6,515.1 L675.6,513.5 L676.6,511.6 L677.6,509.7 L678.6,507.7 L679.6,505.8 L680.6,504.0 L681.6,502.3 L682.6,500.6 L683.6,499.0 L684.6,497.3 L685.6,495.7 L686.6,494.1 L687.6,492.5 L688.6,491.0 L689.6,489.5 L690.6,488.0 L691.6,486.5 L692.6,485.0 L693.6,483.5 L694.6,482.0 L695.6,480.5 L696.6,479.0 L697.6,477.7 L698.6,476.4 L699.6,475.2 L700.6,474.2 L701.6,473.3 L702.6,472.4 L703.6,471.7 L704.6,471.0 L705.6,470.4 L706.6,469.8 L707.6,469.4 L708.6,469.0 L709.6,468.7 L710.6,468.4 L711.6,468.1 L712.6,467.9 L713.6,467.7 L714.6,467.6 L715.6,467.5 L716.6,467.5 L717.6,467.5 L718.6,467.5 L719.6,467.5 L720.6,467.5 L721.6,467.5 L722.6,467.5 L723.6,467.5 L724.6,467.5 L725.6,467.5 L726.6,467.5 L727.6,467.5 L728.6,467.5 L729.6,467.5 L730.6,467.5 L731.6,467.5 L732.6,467.5 L733.6,467.5 L734.6,467.7 L735.6,468.0 L736.6,468.5 L737.6,469.1 L738.6,469.8 L739.6,470.6 L740.6,471.3 L741.6,472.0 L742.6,472.6 L743.6,473.3 L744.6,474.0 L745.6,474.6 L746.6,475.3 L747.6,476.0 L748.6,476.7 L749.6,477.4 L750.6,478.0 L751.6,478.7 L752.6,479.3 L753.6,479.9 L754.6,480.5 L755.6,481.1 L756.6,481.7 L757.6,482.3 L758.6,482.9 L759.6,483.5 L760.6,484.0 L761.6,484.6 L762.6,485.2 L763.6,485.8 L764.6,486.5 L765.6,487.1 L766.6,487.8 L767.6,488.5 L768.6,489.2 L769.6,489.9 L770.6,490.7 L771.6,491.4 L772.6,492.1 L773.6,492.9 L774.6,493.6 L775.6,494.3 L776.6,495.0 L777.6,495.8 L778.6,496.5 L779.6,497.2 L780.6,498.0 L781.6,498.7 L782.6,499.4 L783.6,500.1 L784.6,500.8 L785.6,501.6 L786.6,502.3 L787.6,503.0 L788.6,503.7 L789.6,504.5 L790.6,505.2 L791.6,505.9 L792.6,506.6 L793.6,507.3 L794.6,508.0 L795.6,508.8 L796.6,509.5 L797.6,510.2 L798.6,510.9 L799.6,511.6 L800.6,512.3 L801.6,513.0 L802.6,513.7 L803.6,514.4 L804.6,515.1 L805.6,515.8 L806.6,516.5 L807.6,517.2 L808.6,517.9 L809.6,518.6 L810.6,519.3 L811.6,520.0 L812.6,520.7 L813.6,521.4 L814.6,522.1 L815.6,522.8 L816.6,523.5 L817.6,524.2 L818.6,524.9 L819.6,525.6 L820.6,526.3 L821.6,527.0 L822.6,527.8 L823.6,528.5 L824.6,529.2 L825.6,529.9 L826.6,530.7 L827.6,531.4 L828.6,532.2 L829.6,532.9 L830.6,533.6 L831.6,534.4 L832.6,535.1 L833.6,535.9 L834.6,536.6 L835.6,537.4 L836.6,538.1 L837.6,538.9 L838.6,539.7 L839.6,540.4 L840.6,541.2 L841.6,542.0 L842.6,542.7 L843.6,543.5 L844.6,544.3 L845.6,545.1 L846.6,545.9 L847.6,546.7 L848.6,547.5 L849.6,548.3 L850.6,549.1 L851.6,549.9 L852.6,550.7 L853.6,551.5 L854.6,552.3 L855.6,553.2 L856.6,554.0 L857.6,554.8 L858.6,555.6 L859.6,556.4 L860.6,557.2 L861.6,558.0 L862.6,558.7 L863.6,559.5 L864.6,560.3 L865.6,561.0 L866.6,561.8 L867.6,562.5 L868.6,563.2 L869.6,563.9 L870.6,564.7 L871.6,565.4 L872.6,566.1 L873.6,566.8 L874.6,567.5 L875.6,568.1 L876.6,568.8 L877.6,569.5 L878.6,570.2 L879.6,570.9 L880.6,571.6 L881.6,572.3 L882.6,573.0 L883.6,573.7 L884.6,574.4 L885.6,575.1 L886.6,575.8 L887.6,576.6 L888.6,577.3 L889.6,578.1 L890.6,578.9 L891.6,579.6 L892.6,580.4 L893.6,581.2 L894.6,582.0 L895.6,582.8 L896.6,583.6 L897.6,584.5 L898.6,585.3 L899.6,586.1 L900.6,586.9 L901.6,587.7 L902.6,588.5 L903.6,589.3 L904.6,590.1 L905.6,590.9 L906.6,591.7 L907.6,592.5 L908.6,593.3 L909.6,594.0 L910.6,594.8 L911.6,595.5 L912.6,596.2 L913.6,596.9 L914.6,597.7 L915.6,598.4 L916.6,599.1 L917.6,599.8 L918.6,600.5 L919.6,601.1 L920.6,601.8 L921.6,602.5 L922.6,603.2 L923.6,603.9 L924.6,604.6 L925.6,605.3 L926.6,606.0 L927.6,606.7 L928.6,607.4 L929.6,608.1 L930.6,608.8 L931.6,609.6 L932.6,610.3 L933.6,611.1 L934.6,611.9 L935.6,612.6 L936.6,613.4 L937.6,614.2 L938.6,615.0 L939.6,615.8 L940.6,616.6 L941.6,617.5 L942.6,618.3 L943.6,619.1 L944.6,619.9 L945.6,620.7 L946.6,621.5 L947.6,622.3 L948.6,623.1 L949.6,623.9 L950.6,624.7 L951.6,625.5 L952.6,626.3 L953.6,627.0 L954.6,627.8 L955.6,628.5 L956.6,629.3 L957.6,630.0 L958.6,630.7 L959.6,631.4 L960.6,632.1 L961.6,632.8 L962.6,633.5 L963.6,634.2 L964.6,634.9 L965.6,635.6 L966.6,636.3 L967.6,637.0 L968.6,637.7 L969.6,638.4 L970.6,639.1 L971.6,639.7 L972.6,640.4 L973.6,641.1 L974.6,641.8 L975.6,642.5 L976.6,643.2 L977.6,643.9 L978.6,644.6 L979.6,645.3 L980.6,646.0 L981.6,646.8 L982.6,647.5 L983.6,648.2 L984.6,648.9 L985.6,649.6 L986.6,650.3 L987.6,651.0 L988.6,651.7 L989.6,652.4 L990.6,653.1 L991.6,653.9 L992.6,654.6 L993.6,655.3 L994.6,656.0 L995.6,656.8 L996.6,657.5 L997.6,658.2 L998.6,659.0 L999.6,659.7 L1000.6,660.5 L1001.6,661.2 L1002.6,662.0 L1003.6,662.8 L1004.6,663.5 L1005.6,664.3 L1006.6,665.1 L1007.6,665.8 L1008.6,666.6 L1009.6,667.4 L1010.6,668.2 L1011.6,669.0 L1012.6,669.8 L1013.6,670.6 L1014.6,671.4 L1015.6,672.2 L1016.6,673.0 L1017.6,673.8 L1018.6,674.6 L1019.6,675.4 L1020.6,676.3 L1021.6,677.1 L1022.6,678.0 L1023.6,678.8 L1024.6,679.7 L1025.6,680.6 L1026.6,681.5 L1027.6,682.3 L1028.6,683.2 L1029.6,684.1 L1030.6,685.0 L1031.6,685.9 L1032.6,686.9 L1033.6,687.8 L1034.6,688.7 L1035.6,689.6 L1036.6,690.5 L1037.6,691.4 L1038.6,692.3 L1039.6,693.2 L1040.6,694.1 L1041.6,695.0 L1042.6,695.9 L1043.6,696.8 L1044.6,697.7 L1045.6,698.6 L1046.6,699.5 L1047.6,700.3 L1048.6,701.2 L1049.6,702.1 L1050.6,702.9 L1051.6,703.8 L1052.6,704.7 L1053.6,705.5 L1054.6,706.4 L1055.6,707.2 L1056.6,708.1 L1057.6,708.9 L1058.6,709.8 L1059.6,710.6 L1060.6,711.5 L1061.6,712.3 L1062.6,713.1 L1063.6,713.9 L1064.6,714.7 L1065.6,715.5 L1066.6,716.3 L1067.6,717.1 L1068.6,717.9 L1069.6,718.7 L1070.6,719.5 L1071.6,720.2 L1072.6,721.0 L1073.6,721.8 L1074.6,722.5 L1075.6,723.3 L1076.6,724.0 L1077.6,724.8 L1078.6,725.5 L1079.6,726.3 L1080.6,727.0 L1081.6,727.7 L1082.6,728.5 L1083.6,729.2 L1084.6,729.9 L1085.6,730.6 L1086.6,731.4 L1087.6,732.1 L1088.6,732.8 L1089.6,733.5 L1090.6,734.2 L1091.6,734.9 L1092.6,735.6 L1093.6,736.3 L1094.6,737.0 L1095.6,737.7 L1096.6,738.4 L1097.6,739.1 L1098.6,739.8 L1099.6,740.5 L1100.6,741.2 L1101.6,741.9 L1102.6,742.6 L1103.6,743.3 L1104.6,744.0 L1105.6,744.7 L1106.6,745.4 L1107.6,746.1 L1108.6,746.8 L1109.6,747.5 L1110.6,748.3 L1111.6,749.0 L1112.6,749.7 L1113.6,750.5 L1114.6,751.3 L1115.6,752.1 L1116.6,752.9 L1117.6,753.7 L1118.6,754.6 L1119.6,755.6 L1120.6,756.5 L1121.6,757.6 L1122.6,758.6 L1123.6,759.7 L1124.6,760.9 L1125.6,762.0 L1126.6,763.2 L1127.6,764.4 L1128.6,765.6 L1129.6,766.8 L1130.6,768.0 L1131.6,769.1 L1132.6,770.2 L1133.6,771.3 L1134.6,772.4 L1135.6,773.5 L1136.6,774.5 L1137.6,775.5 L1138.6,776.6 L1139.6,777.6 L1140.6,778.6 L1141.6,779.5 L1142.6,780.5 L1143.6,781.5 L1144.6,782.5 L1145.6,783.5 L1146.6,784.4 L1147.6,785.4 L1148.6,786.4 L1149.6,787.4 L1150.6,788.4 L1151.6,789.4 L1152.6,790.5 L1153.6,791.5 L1154.6,792.5 L1155.6,793.6 L1156.6,794.7 L1157.6,795.7 L1158.6,796.8 L1159.6,797.9 L1160.6,799.0 L1161.6,800.1 L1162.6,801.3 L1163.6,802.4 L1164.6,803.5 L1165.6,804.6 L1166.6,805.7 L1167.6,806.8 L1168.6,808.0 L1169.6,809.1 L1170.6,810.2 L1171.6,811.2 L1172.6,812.3 L1173.6,813.4 L1174.6,814.4 L1175.6,815.4 L1176.6,816.5 L1177.6,817.5 L1178.6,818.4 L1179.6,819.4 L1180.6,820.4 L1181.6,821.3 L1182.6,822.2 L1183.6,823.2 L1184.6,824.1 L1185.6,825.0 L1186.6,825.9 L1187.6,826.8 L1188.6,827.7 L1189.6,828.7 L1190.6,829.6 L1191.6,830.6 L1192.6,831.5 L1193.6,832.5 L1194.6,833.5 L1195.6,834.6 L1196.6,835.6 L1197.6,836.7 L1198.6,837.9 L1199.6,839.0 L1200.6,840.2 L1201.6,841.4 L1202.6,842.7 L1203.6,843.9 L1204.6,845.0 L1205.6,846.2 L1206.6,847.3 L1207.6,848.3 L1208.6,849.3 L1209.6,850.2 L1210.6,851.0 L1211.6,851.8 L1212.6,852.6 L1213.6,853.3 L1214.6,854.0 L1215.6,854.7 L1216.6,855.4 L1217.6,856.1 L1218.6,856.8 L1219.6,857.4 L1220.6,858.1 L1221.6,858.9 L1222.6,859.6 L1223.6,860.3 L1224.6,861.1 L1225.6,861.9 L1226.6,862.7 L1227.6,863.4 L1228.6,864.2 L1229.6,865.0 L1230.6,865.9 L1231.6,866.7 L1232.6,867.5 L1233.6,868.3 L1234.6,869.1 L1235.6,869.9 L1236.6,870.7 L1237.6,871.5 L1238.6,872.3 L1239.6,873.1 L1240.6,873.9 L1241.6,874.7 L1242.6,875.5 L1243.6,876.2 L1244.6,877.0 L1245.6,877.7 L1246.6,878.5 L1247.6,879.2 L1248.6,880.0 L1249.6,880.7 L1250.6,881.4 L1251.6,882.1 L1252.6,882.8 L1253.6,883.6 L1254.6,884.3 L1255.6,885.0 L1256.6,885.7 L1257.6,886.3 L1258.6,887.0 L1259.6,887.7 L1260.6,888.4 L1261.6,889.1 L1262.6,889.7 L1263.6,890.4 L1264.6,891.1 L1265.6,891.7 L1266.6,892.4 L1267.6,893.0 L1268.6,893.6 L1269.6,894.3 L1270.6,894.9 L1271.6,895.5 L1272.6,896.2 L1273.6,896.8 L1274.6,897.4 L1275.6,898.0 L1276.6,898.6 L1277.6,899.2 L1278.6,899.8 L1279.6,900.4 L1280.6,901.0 L1281.6,901.6 L1282.6,902.1 L1283.6,902.7 L1284.6,903.3 L1285.6,903.8 L1286.6,904.4 L1287.6,904.9 L1288.6,905.5 L1289.6,906.0 L1290.6,906.5 L1291.6,907.1 L1292.6,907.6 L1293.6,908.1 L1294.6,908.6 L1295.6,909.1 L1296.6,909.6 L1297.6,910.1 L1298.6,910.6 L1299.6,911.1 L1300.6,911.6 L1301.6,912.1 L1302.6,912.6 L1303.6,913.1 L1304.6,913.6 L1305.6,914.0 L1306.6,914.5 L1307.6,915.0 L1308.6,915.5 L1309.6,916.0 L1310.6,916.5 L1311.6,917.0 L1312.6,917.5 L1313.6,918.0 L1314.6,918.5 L1315.6,919.0 L1316.6,919.5 L1317.6,920.0 L1318.6,920.5 L1319.6,921.0 L1320.6,921.5 L1321.6,922.0 L1322.6,922.5 L1323.6,923.0 L1324.6,923.5 L1325.6,924.0 L1326.6,924.5 L1327.6,925.0 L1328.6,925.5 L1329.6,926.0 L1330.6,926.5 L1331.6,927.0 L1332.6,927.5 L1333.6,928.0 L1334.6,928.5 L1335.6,929.0 L1336.6,929.5 L1337.6,930.0 L1338.6,930.5 L1339.6,931.0 L1340.6,931.5 L1341.6,932.0 L1342.6,932.5 L1343.6,933.0 L1344.6,933.5 L1345.6,934.0 L1346.6,934.5 L1347.6,935.0 L1348.6,935.5 L1349.6,936.0 L1350.6,936.5 L1351.6,937.0 L1352.6,937.5 L1353.6,938.0 L1354.6,938.5 L1355.6,939.0 L1356.6,939.5 L1357.6,940.0 L1358.6,940.5 L1359.6,941.0 L1360.6,941.5 L1361.6,942.0 L1362.6,942.5 L1363.6,943.0 L1364.6,943.5 L1365.6,944.0 L1366.6,944.5 L1367.6,945.0 L1368.6,945.5 L1369.6,946.0 L1370.6,946.5 L1371.6,947.0 L1372.6,947.5 L1373.6,948.0 L1374.6,948.5 L1375.6,949.0 L1376.6,949.5 L1377.6,950.0 L1378.6,950.5 L1379.6,951.0 L1380.6,951.4 L1381.6,951.9 L1382.6,952.4 L1383.6,952.9 L1384.6,953.4 L1385.6,953.9 L1386.6,954.3 L1387.6,954.8 L1388.6,955.3 L1389.6,955.8 L1390.6,956.3 L1391.6,956.8 L1392.6,957.3 L1393.6,957.8 L1394.6,958.3 L1395.6,958.8 L1396.6,959.3 L1397.6,959.8 L1398.6,960.3 L1399.6,960.8 L1400.6,961.4 L1401.6,961.9 L1402.6,962.5 L1403.6,963.0 L1404.6,963.6 L1405.6,964.1 L1406.6,964.7 L1407.6,965.2 L1408.6,965.8 L1409.6,966.3 L1410.6,966.9 L1411.6,967.4 L1412.6,968.0 L1413.6,968.5 L1414.6,969.0 L1415.6,969.6 L1416.6,970.1 L1417.6,970.6 L1418.6,971.1 L1419.6,971.6 L1420.6,972.1 L1421.6,972.6 L1422.6,973.1 L1423.6,973.6 L1424.6,974.1 L1425.6,974.6 L1426.6,975.1 L1427.6,975.6 L1428.6,976.1 L1429.6,976.6 L1430.6,977.1 L1431.6,977.5 L1432.6,978.0 L1433.6,978.5 L1434.6,979.0 L1435.6,979.4 L1436.6,979.9 L1437.6,980.4 L1438.6,980.8 L1439.6,981.3 L1440.6,981.8 L1441.6,982.2 L1442.6,982.7 L1443.6,983.1 L1444.6,983.6 L1445.6,984.0 L1446.6,984.5 L1447.6,984.9 L1448.6,985.4 L1449.6,985.8 L1450.6,986.3 L1451.6,986.7 L1452.6,987.1 L1453.6,987.6 L1454.6,988.0 L1455.6,988.4 L1456.6,988.8 L1457.6,989.3 L1458.6,989.7 L1459.6,990.1 L1460.6,990.5 L1461.6,990.9 L1462.6,991.3 L1463.6,991.7 L1464.6,992.2 L1465.6,992.6 L1466.6,993.0 L1467.6,993.4 L1468.6,993.8 L1469.6,994.2 L1470.6,994.5 L1471.6,994.9 L1472.6,995.3 L1473.6,995.7 L1474.6,996.1 L1475.6,996.5 L1476.6,996.9 L1477.6,997.2 L1478.6,997.6 L1479.6,998.0 L1480.6,998.3 L1481.6,998.7 L1482.6,999.1 L1483.6,999.4 L1484.6,999.8 L1485.6,1000.1 L1486.6,1000.5 L1487.6,1000.8 L1488.6,1001.2 L1489.6,1001.5 L1490.6,1001.8 L1491.6,1002.2 L1492.6,1002.5 L1493.6,1002.9 L1494.6,1003.2 L1495.6,1003.6 L1496.6,1003.9 L1497.6,1004.3 L1498.6,1004.6 L1499.6,1005.0 L1500.6,1005.3 L1501.6,1005.6 L1502.6,1006.0 L1503.6,1006.3 L1504.6,1006.7 L1505.6,1007.0 L1506.6,1007.4 L1507.6,1007.7 L1508.6,1008.1 L1509.6,1008.5 L1510.6,1008.8 L1511.6,1009.2 L1512.6,1009.6 L1513.6,1010.0 L1514.6,1010.4 L1515.6,1010.8 L1516.6,1011.3 L1517.6,1011.7 L1518.6,1012.2 L1519.6,1012.7 L1520.6,1013.2 L1521.6,1013.7 L1522.6,1014.2 L1523.6,1014.7 L1524.6,1015.2 L1525.6,1015.7 L1526.6,1016.1 L1527.6,1016.6 L1528.6,1017.1 L1529.6,1017.5 L1530.6,1017.9 L1531.6,1018.3 L1532.6,1018.7 L1533.6,1019.0 L1534.6,1019.4 L1535.6,1019.7 L1536.6,1020.0 L1537.6,1020.3 L1538.6,1020.5 L1539.6,1020.8 L1540.6,1021.0 L1541.6,1021.2 L1542.6,1021.5 L1543.6,1021.7 L1544.6,1021.9 L1545.6,1022.0 L1546.6,1022.2 L1547.6,1022.4 L1548.6,1022.5 L1549.6,1022.6 L1550.6,1022.8 L1551.6,1022.9 L1552.6,1023.0 L1553.6,1023.1 L1554.6,1023.2 L1555.6,1023.3 L1556.6,1023.4 L1557.6,1023.5 L1558.6,1023.5 L1559.6,1023.6 L1560.6,1023.6 L1561.6,1023.7 L1562.6,1023.7 L1563.0,1023.8" stroke="#c0404f"/>
<path d="M268.6,152.0 L269.1,161.8 L269.6,166.4 L270.1,171.0 L270.6,175.0 L271.1,178.5 L271.6,181.5 L272.1,184.1 L272.6,186.6 L273.1,189.1 L273.6,191.6 L274.1,194.2 L274.6,196.8 L275.1,199.3 L275.6,201.8 L276.1,204.3 L276.6,206.6 L277.1,208.8 L277.6,210.9 L278.1,212.9 L278.6,214.8 L279.1,216.7 L279.6,218.5 L280.1,220.3 L280.6,222.2 L281.1,224.1 L281.6,226.0 L282.1,227.9 L282.6,229.9 L283.1,231.9 L283.6,234.0 L284.1,236.0 L284.6,237.9 L285.1,239.8 L285.6,241.7 L286.1,243.4 L286.6,245.1 L287.1,246.6 L287.6,248.2 L288.1,249.6 L288.6,251.1 L289.1,252.5 L289.6,253.8 L290.1,255.2 L290.6,256.5 L291.1,257.8 L291.6,259.0 L292.1,260.2 L292.6,261.5 L293.1,262.7 L293.6,263.8 L294.1,265.0 L294.6,266.2 L295.1,267.3 L295.6,268.5 L296.1,269.6 L296.6,270.8 L297.1,271.9 L297.6,273.0 L298.1,274.2 L298.6,275.3 L299.1,276.5 L299.6,277.7 L300.1,278.9 L300.6,280.1 L301.1,281.3 L301.6,282.5 L302.1,283.7 L302.6,285.0 L303.1,286.2 L303.6,287.5 L304.1,288.8 L304.6,290.0 L305.1,291.3 L305.6,292.6 L306.1,293.8 L306.6,295.1 L307.1,296.4 L307.6,297.6 L308.1,298.8 L308.6,300.1 L309.1,301.3 L309.6,302.5 L310.1,303.6 L310.6,304.8 L311.1,305.9 L311.6,307.1 L312.1,308.1 L312.6,309.2 L313.1,310.2 L313.6,311.2 L314.6,313.2 L315.6,315.0 L316.6,316.7 L317.6,318.4 L318.6,320.0 L319.6,321.6 L320.6,323.2 L321.6,324.9 L322.6,326.5 L323.6,328.1 L324.6,329.8 L325.6,331.4 L326.6,333.0 L327.6,334.7 L328.6,336.3 L329.6,337.9 L330.6,339.6 L331.6,341.3 L332.6,343.1 L333.6,344.9 L334.6,346.8 L335.6,348.7 L336.6,350.6 L337.6,352.6 L338.6,354.5 L339.6,356.3 L340.6,358.1 L341.6,359.8 L342.6,361.4 L343.6,362.9 L344.6,364.3 L345.6,365.6 L346.6,367.0 L347.6,368.2 L348.6,369.5 L349.6,370.8 L350.6,372.0 L351.6,373.3 L352.6,374.5 L353.6,375.6 L354.6,376.7 L355.6,377.8 L356.6,378.8 L357.6,379.9 L358.6,380.9 L359.6,381.9 L360.6,382.9 L361.6,383.9 L362.6,384.8 L363.6,385.7 L364.6,386.6 L365.6,387.5 L366.6,388.3 L367.6,389.1 L368.6,389.8 L369.6,390.6 L370.6,391.3 L371.6,392.0 L372.6,392.6 L373.6,393.3 L374.6,393.9 L375.6,394.5 L376.6,395.1 L377.6,395.7 L378.6,396.2 L379.6,396.8 L380.6,397.3 L381.6,397.8 L382.6,398.3 L383.6,398.8 L384.6,399.3 L385.6,399.9 L386.6,400.4 L387.6,400.9 L388.6,401.4 L389.6,401.8 L390.6,402.1 L391.6,402.3 L392.6,402.5 L393.6,402.5 L394.6,402.5 L395.6,402.5 L396.6,402.5 L397.6,402.5 L398.6,402.5 L399.6,402.5 L400.6,402.5 L401.6,402.5 L402.6,402.5 L403.6,402.5 L404.6,402.5 L405.6,402.5 L406.6,402.5 L407.6,402.5 L408.6,402.5 L409.6,402.5 L410.6,402.5 L411.6,402.5 L412.6,402.5 L413.6,402.5 L414.6,402.5 L415.6,402.5 L416.6,402.5 L417.6,402.5 L418.6,402.5 L419.6,402.5 L420.6,402.5 L421.6,402.5 L422.6,402.5 L423.6,402.5 L424.6,402.5 L425.6,402.5 L426.6,402.5 L427.6,402.3 L428.6,402.1 L429.6,401.7 L430.6,401.3 L431.6,400.8 L432.6,400.2 L433.6,399.7 L434.6,399.2 L435.6,398.8 L436.6,398.5 L437.6,398.1 L438.6,397.8 L439.6,397.6 L440.6,397.3 L441.6,397.0 L442.6,396.8 L443.6,396.5 L444.6,396.3 L445.6,396.0 L446.6,395.8 L447.6,395.5 L448.6,395.3 L449.6,395.0 L450.6,394.8 L451.6,394.5 L452.6,394.2 L453.6,393.9 L454.6,393.7 L455.6,393.4 L456.6,393.1 L457.6,392.8 L458.6,392.5 L459.6,392.3 L460.6,392.0 L461.6,391.7 L462.6,391.5 L463.6,391.2 L464.6,391.0 L465.6,390.7 L466.6,390.5 L467.6,390.3 L468.6,390.1 L469.6,389.9 L470.6,389.7 L471.6,389.5 L472.6,389.3 L473.6,389.1 L474.6,388.9 L475.6,388.7 L476.6,388.5 L477.6,388.3 L478.6,388.1 L479.6,387.9 L480.6,387.7 L481.6,387.5 L482.6,387.3 L483.6,387.1 L484.6,386.8 L485.6,386.6 L486.6,386.4 L487.6,386.2 L488.6,386.0 L489.6,385.9 L490.6,385.8 L491.6,385.7 L492.6,385.7 L493.6,385.7 L494.6,385.8 L495.6,385.9 L496.6,386.0 L497.6,386.1 L498.6,386.3 L499.6,386.4 L500.6,386.6 L501.6,386.8 L502.6,387.0 L503.6,387.2 L504.6,387.5 L505.6,387.7 L506.6,387.9 L507.6,388.1 L508.6,388.4 L509.6,388.6 L510.6,388.8 L511.6,389.0 L512.6,389.3 L513.6,389.5 L514.6,389.8 L515.6,390.1 L516.6,390.3 L517.6,390.6 L518.6,390.9 L519.6,391.3 L520.6,391.6 L521.6,391.9 L522.6,392.3 L523.6,392.7 L524.6,393.1 L525.6,393.5 L526.6,393.9 L527.6,394.4 L528.6,394.9 L529.6,395.5 L530.6,396.0 L531.6,396.6 L532.6,397.1 L533.6,397.7 L534.6,398.3 L535.6,398.9 L536.6,399.5 L537.6,400.1 L538.6,400.8 L539.6,401.4 L540.6,402.1 L541.6,402.8 L542.6,403.6 L543.6,404.3 L544.6,405.1 L545.6,405.8 L546.6,406.6 L547.6,407.4 L548.6,408.1 L549.6,408.9 L550.6,409.6 L551.6,410.3 L552.6,411.0 L553.6,411.7 L554.6,412.4 L555.6,413.0 L556.6,413.7 L557.6,414.3 L558.6,415.0 L559.6,415.6 L560.6,416.3 L561.6,416.9 L562.6,417.6 L563.6,418.3 L564.6,419.0 L565.6,419.7 L566.6,420.4 L567.6,421.1 L568.6,421.8 L569.6,422.5 L570.6,423.3 L571.6,424.0 L572.6,424.8 L573.6,425.6 L574.6,426.5 L575.6,427.5 L576.6,428.6 L577.6,429.7 L578.6,431.0 L579.6,432.3 L580.6,433.8 L581.6,435.4 L582.6,437.1 L583.6,438.9 L584.1,439.9 L584.6,440.9 L585.1,441.9 L585.6,443.1 L586.1,444.3 L586.6,445.6 L587.1,447.0 L587.6,448.5 L588.1,450.0 L588.6,451.6 L589.1,453.2 L589.6,454.9 L590.1,456.6 L590.6,458.3 L591.1,460.1 L591.6,461.9 L592.1,463.8 L592.6,465.7 L593.1,467.7 L593.6,469.7 L594.1,471.8 L594.6,473.8 L595.1,475.9 L595.6,478.0 L596.1,480.1 L596.6,482.2 L597.1,484.4 L597.6,486.6 L598.1,488.8 L598.6,491.1 L599.1,493.3 L599.6,495.5 L600.1,497.7 L600.6,499.8 L601.1,501.8 L601.6,503.7 L602.1,505.5 L602.6,507.2 L603.1,508.9 L603.6,510.5 L604.1,512.1 L604.6,513.6 L605.1,515.1 L605.6,516.5 L606.1,518.0 L606.6,519.4 L607.1,520.8 L607.6,522.2 L608.1,523.6 L608.6,524.9 L609.1,526.3 L609.6,527.7 L610.1,529.0 L610.6,530.4 L611.1,531.7 L611.6,533.0 L612.1,534.3 L612.6,535.6 L613.1,536.9 L613.6,538.2 L614.1,539.4 L614.6,540.7 L615.1,541.9 L615.6,543.2 L616.1,544.5 L616.6,545.7 L617.1,547.0 L617.6,548.2 L618.1,549.5 L618.6,550.7 L619.1,551.9 L619.6,553.1 L620.1,554.3 L620.6,555.5 L621.1,556.7 L621.6,557.8 L622.1,558.9 L622.6,560.0 L623.1,561.1 L623.6,562.1 L624.1,563.2 L624.6,564.3 L625.6,566.3 L626.6,568.1 L627.6,569.4 L628.6,570.2 L629.6,570.7 L630.6,571.1 L631.6,571.4 L632.6,571.5 L633.6,571.5 L634.6,571.5 L635.6,571.3 L636.6,571.1 L637.6,570.9 L638.6,570.6 L639.6,570.1 L640.6,569.6 L641.6,568.9 L642.6,568.1 L643.6,567.2 L644.6,566.3 L645.6,565.4 L646.6,564.5 L647.6,563.5 L648.6,562.5 L649.6,561.5 L650.6,560.4 L651.6,559.2 L652.6,558.0 L653.6,556.8 L654.6,555.6 L655.6,554.4 L656.6,553.2 L657.6,552.0 L658.6,550.8 L659.6,549.5 L660.6,548.2 L661.6,546.9 L662.6,545.6 L663.6,544.4 L664.6,543.2 L665.6,542.1 L666.6,541.2 L667.6,540.2 L668.6,539.4 L669.6,538.5 L670.6,537.7 L671.6,536.8 L672.6,536.1 L673.6,535.3 L674.6,534.5 L675.6,533.8 L676.6,533.1 L677.6,532.5 L678.6,531.8 L679.6,531.2 L680.6,530.6 L681.6,530.1 L682.6,529.5 L683.6,529.0 L684.6,528.6 L685.6,528.1 L686.6,527.7 L687.6,527.2 L688.6,526.8 L689.6,526.4 L690.6,526.0 L691.6,525.7 L692.6,525.4 L693.6,525.2 L694.6,525.1 L695.6,525.1 L696.6,525.1 L697.6,525.1 L698.6,525.1 L699.6,525.2 L700.6,525.2 L701.6,525.2 L702.6,525.2 L703.6,525.3 L704.6,525.3 L705.6,525.4 L706.6,525.4 L707.6,525.5 L708.6,525.6 L709.6,525.8 L710.6,526.1 L711.6,526.6 L712.6,527.4 L713.6,528.2 L714.6,529.1 L715.6,530.2 L716.6,531.2 L717.6,532.2 L718.6,533.1 L719.6,534.0 L720.6,534.8 L721.6,535.5 L722.6,536.3 L723.6,537.1 L724.6,537.8 L725.6,538.6 L726.6,539.3 L727.6,540.0 L728.6,540.8 L729.6,541.5 L730.6,542.3 L731.6,543.0 L732.6,543.8 L733.6,544.5 L734.6,545.3 L735.6,546.0 L736.6,546.8 L737.6,547.5 L738.6,548.3 L739.6,549.1 L740.6,549.8 L741.6,550.6 L742.6,551.4 L743.6,552.2 L744.6,553.0 L745.6,553.8 L746.6,554.6 L747.6,555.4 L748.6,556.2 L749.6,557.0 L750.6,557.8 L751.6,558.6 L752.6,559.4 L753.6,560.2 L754.6,561.0 L755.6,561.8 L756.6,562.6 L757.6,563.4 L758.6,564.2 L759.6,565.0 L760.6,565.8 L761.6,566.6 L762.6,567.4 L763.6,568.2 L764.6,569.1 L765.6,569.9 L766.6,570.7 L767.6,571.5 L768.6,572.3 L769.6,573.1 L770.6,573.9 L771.6,574.7 L772.6,575.5 L773.6,576.3 L774.6,577.1 L775.6,577.9 L776.6,578.7 L777.6,579.5 L778.6,580.3 L779.6,581.1 L780.6,581.8 L781.6,582.6 L782.6,583.3 L783.6,584.1 L784.6,584.8 L785.6,585.5 L786.6,586.3 L787.6,587.0 L788.6,587.7 L789.6,588.5 L790.6,589.2 L791.6,589.9 L792.6,590.7 L793.6,591.5 L794.6,592.2 L795.6,593.0 L796.6,593.8 L797.6,594.6 L798.6,595.5 L799.6,596.3 L800.6,597.2 L801.6,598.1 L802.6,599.0 L803.6,600.0 L804.6,600.9 L805.6,601.9 L806.6,602.9 L807.6,603.8 L808.6,604.8 L809.6,605.9 L810.6,606.9 L811.6,607.9 L812.6,608.9 L813.6,609.9 L814.6,611.0 L815.6,612.0 L816.6,613.0 L817.6,614.1 L818.6,615.1 L819.6,616.1 L820.6,617.2 L821.6,618.2 L822.6,619.2 L823.6,620.2 L824.6,621.2 L825.6,622.2 L826.6,623.2 L827.6,624.3 L828.6,625.3 L829.6,626.3 L830.6,627.3 L831.6,628.3 L832.6,629.3 L833.6,630.3 L834.6,631.3 L835.6,632.3 L836.6,633.3 L837.6,634.3 L838.6,635.3 L839.6,636.3 L840.6,637.3 L841.6,638.2 L842.6,639.2 L843.6,640.2 L844.6,641.1 L845.6,642.1 L846.6,643.0 L847.6,643.9 L848.6,644.9 L849.6,645.8 L850.6,646.7 L851.6,647.7 L852.6,648.6 L853.6,649.5 L854.6,650.4 L855.6,651.3 L856.6,652.2 L857.6,653.1 L858.6,654.0 L859.6,654.8 L860.6,655.7 L861.6,656.6 L862.6,657.4 L863.6,658.3 L864.6,659.2 L865.6,660.0 L866.6,660.9 L867.6,661.7 L868.6,662.5 L869.6,663.4 L870.6,664.2 L871.6,665.0 L872.6,665.8 L873.6,666.6 L874.6,667.4 L875.6,668.2 L876.6,669.0 L877.6,669.8 L878.6,670.6 L879.6,671.4 L880.6,672.2 L881.6,672.9 L882.6,673.7 L883.6,674.5 L884.6,675.3 L885.6,676.1 L886.6,676.9 L887.6,677.7 L888.6,678.5 L889.6,679.3 L890.6,680.1 L891.6,680.9 L892.6,681.7 L893.6,682.5 L894.6,683.3 L895.6,684.1 L896.6,684.9 L897.6,685.7 L898.6,686.5 L899.6,687.3 L900.6,688.1 L901.6,688.9 L902.6,689.7 L903.6,690.5 L904.6,691.3 L905.6,692.1 L906.6,692.9 L907.6,693.7 L908.6,694.5 L909.6,695.3 L910.6,696.1 L911.6,696.9 L912.6,697.7 L913.6,698.5 L914.6,699.3 L915.6,700.1 L916.6,700.9 L917.6,701.7 L918.6,702.5 L919.6,703.3 L920.6,704.1 L921.6,704.9 L922.6,705.7 L923.6,706.5 L924.6,707.3 L925.6,708.1 L926.6,708.9 L927.6,709.7 L928.6,710.5 L929.6,711.3 L930.6,712.1 L931.6,712.9 L932.6,713.7 L933.6,714.5 L934.6,715.3 L935.6,716.1 L936.6,716.9 L937.6,717.7 L938.6,718.5 L939.6,719.3 L940.6,720.1 L941.6,720.9 L942.6,721.7 L943.6,722.5 L944.6,723.3 L945.6,724.1 L946.6,724.9 L947.6,725.7 L948.6,726.5 L949.6,727.3 L950.6,728.1 L951.6,728.9 L952.6,729.7 L953.6,730.5 L954.6,731.3 L955.6,732.1 L956.6,732.9 L957.6,733.7 L958.6,734.5 L959.6,735.3 L960.6,736.1 L961.6,736.9 L962.6,737.7 L963.6,738.5 L964.6,739.3 L965.6,740.1 L966.6,740.9 L967.6,741.7 L968.6,742.5 L969.6,743.3 L970.6,744.1 L971.6,744.9 L972.6,745.7 L973.6,746.5 L974.6,747.3 L975.6,748.1 L976.6,748.8 L977.6,749.6 L978.6,750.4 L979.6,751.2 L980.6,751.9 L981.6,752.7 L982.6,753.4 L983.6,754.2 L984.6,755.0 L985.6,755.7 L986.6,756.5 L987.6,757.2 L988.6,758.0 L989.6,758.8 L990.6,759.5 L991.6,760.3 L992.6,761.1 L993.6,761.9 L994.6,762.7 L995.6,763.5 L996.6,764.3 L997.6,765.1 L998.6,765.9 L999.6,766.8 L1000.6,767.6 L1001.6,768.5 L1002.6,769.3 L1003.6,770.2 L1004.6,771.1 L1005.6,772.0 L1006.6,772.9 L1007.6,773.9 L1008.6,774.8 L1009.6,775.7 L1010.6,776.7 L1011.6,777.6 L1012.6,778.5 L1013.6,779.5 L1014.6,780.4 L1015.6,781.4 L1016.6,782.3 L1017.6,783.3 L1018.6,784.2 L1019.6,785.1 L1020.6,786.1 L1021.6,787.0 L1022.6,787.9 L1023.6,788.9 L1024.6,789.8 L1025.6,790.7 L1026.6,791.6 L1027.6,792.5 L1028.6,793.4 L1029.6,794.4 L1030.6,795.3 L1031.6,796.2 L1032.6,797.1 L1033.6,798.0 L1034.6,798.9 L1035.6,799.8 L1036.6,800.7 L1037.6,801.6 L1038.6,802.5 L1039.6,803.3 L1040.6,804.2 L1041.6,805.1 L1042.6,805.9 L1043.6,806.8 L1044.6,807.6 L1045.6,808.5 L1046.6,809.3 L1047.6,810.1 L1048.6,811.0 L1049.6,811.8 L1050.6,812.6 L1051.6,813.4 L1052.6,814.2 L1053.6,815.0 L1054.6,815.8 L1055.6,816.6 L1056.6,817.4 L1057.6,818.2 L1058.6,819.0 L1059.6,819.7 L1060.6,820.5 L1061.6,821.3 L1062.6,822.1 L1063.6,822.9 L1064.6,823.7 L1065.6,824.5 L1066.6,825.3 L1067.6,826.1 L1068.6,826.9 L1069.6,827.7 L1070.6,828.5 L1071.6,829.3 L1072.6,830.1 L1073.6,830.9 L1074.6,831.7 L1075.6,832.5 L1076.6,833.3 L1077.6,834.1 L1078.6,834.9 L1079.6,835.7 L1080.6,836.5 L1081.6,837.3 L1082.6,838.1 L1083.6,838.9 L1084.6,839.7 L1085.6,840.5 L1086.6,841.3 L1087.6,842.1 L1088.6,842.9 L1089.6,843.7 L1090.6,844.5 L1091.6,845.3 L1092.6,846.1 L1093.6,846.9 L1094.6,847.8 L1095.6,848.6 L1096.6,849.4 L1097.6,850.2 L1098.6,851.0 L1099.6,851.8 L1100.6,852.6 L1101.6,853.4 L1102.6,854.2 L1103.6,855.0 L1104.6,855.8 L1105.6,856.6 L1106.6,857.4 L1107.6,858.1 L1108.6,858.9 L1109.6,859.6 L1110.6,860.4 L1111.6,861.1 L1112.6,861.9 L1113.6,862.6 L1114.6,863.3 L1115.6,864.0 L1116.6,864.7 L1117.6,865.4 L1118.6,866.1 L1119.6,866.8 L1120.6,867.5 L1121.6,868.2 L1122.6,868.9 L1123.6,869.6 L1124.6,870.3 L1125.6,871.0 L1126.6,871.7 L1127.6,872.4 L1128.6,873.1 L1129.6,873.8 L1130.6,874.4 L1131.6,875.1 L1132.6,875.8 L1133.6,876.6 L1134.6,877.3 L1135.6,878.0 L1136.6,878.7 L1137.6,879.4 L1138.6,880.1 L1139.6,880.8 L1140.6,881.5 L1141.6,882.2 L1142.6,882.9 L1143.6,883.7 L1144.6,884.4 L1145.6,885.1 L1146.6,885.8 L1147.6,886.4 L1148.6,887.1 L1149.6,887.8 L1150.6,888.5 L1151.6,889.2 L1152.6,889.8 L1153.6,890.5 L1154.6,891.1 L1155.6,891.8 L1156.6,892.4 L1157.6,893.0 L1158.6,893.7 L1159.6,894.3 L1160.6,894.9 L1161.6,895.5 L1162.6,896.1 L1163.6,896.7 L1164.6,897.3 L1165.6,897.9 L1166.6,898.5 L1167.6,899.1 L1168.6,899.7 L1169.6,900.3 L1170.6,900.9 L1171.6,901.5 L1172.6,902.0 L1173.6,902.6 L1174.6,903.2 L1175.6,903.7 L1176.6,904.3 L1177.6,904.8 L1178.6,905.4 L1179.6,905.9 L1180.6,906.5 L1181.6,907.0 L1182.6,907.5 L1183.6,908.0 L1184.6,908.6 L1185.6,909.1 L1186.6,909.6 L1187.6,910.1 L1188.6,910.6 L1189.6,911.2 L1190.6,911.7 L1191.6,912.2 L1192.6,912.8 L1193.6,913.3 L1194.6,913.9 L1195.6,914.5 L1196.6,915.0 L1197.6,915.6 L1198.6,916.3 L1199.6,916.9 L1200.6,917.5 L1201.6,918.2 L1202.6,918.9 L1203.6,919.6 L1204.6,920.3 L1205.6,921.0 L1206.6,921.8 L1207.6,922.5 L1208.6,923.3 L1209.6,924.1 L1210.6,924.9 L1211.6,925.6 L1212.6,926.4 L1213.6,927.2 L1214.6,928.0 L1215.6,928.8 L1216.6,929.6 L1217.6,930.4 L1218.6,931.2 L1219.6,931.9 L1220.6,932.7 L1221.6,933.4 L1222.6,934.2 L1223.6,934.9 L1224.6,935.7 L1225.6,936.4 L1226.6,937.1 L1227.6,937.9 L1228.6,938.6 L1229.6,939.3 L1230.6,940.0 L1231.6,940.7 L1232.6,941.4 L1233.6,942.1 L1234.6,942.8 L1235.6,943.5 L1236.6,944.2 L1237.6,944.9 L1238.6,945.6 L1239.6,946.2 L1240.6,946.9 L1241.6,947.6 L1242.6,948.2 L1243.6,948.9 L1244.6,949.5 L1245.6,950.1 L1246.6,950.8 L1247.6,951.4 L1248.6,952.0 L1249.6,952.6 L1250.6,953.2 L1251.6,953.8 L1252.6,954.4 L1253.6,955.0 L1254.6,955.6 L1255.6,956.2 L1256.6,956.7 L1257.6,957.3 L1258.6,957.9 L1259.6,958.5 L1260.6,959.1 L1261.6,959.7 L1262.6,960.3 L1263.6,961.0 L1264.6,961.6 L1265.6,962.2 L1266.6,962.9 L1267.6,963.5 L1268.6,964.2 L1269.6,964.9 L1270.6,965.6 L1271.6,966.3 L1272.6,967.0 L1273.6,967.7 L1274.6,968.4 L1275.6,969.1 L1276.6,969.8 L1277.6,970.5 L1278.6,971.2 L1279.6,972.0 L1280.6,972.7 L1281.6,973.4 L1282.6,974.1 L1283.6,974.8 L1284.6,975.5 L1285.6,976.1 L1286.6,976.8 L1287.6,977.5 L1288.6,978.1 L1289.6,978.8 L1290.6,979.4 L1291.6,980.0 L1292.6,980.6 L1293.6,981.3 L1294.6,981.9 L1295.6,982.5 L1296.6,983.1 L1297.6,983.7 L1298.6,984.3 L1299.6,984.9 L1300.6,985.5 L1301.6,986.0 L1302.6,986.6 L1303.6,987.2 L1304.6,987.8 L1305.6,988.4 L1306.6,989.0 L1307.6,989.6 L1308.6,990.2 L1309.6,990.8 L1310.6,991.4 L1311.6,992.0 L1312.6,992.6 L1313.6,993.2 L1314.6,993.8 L1315.6,994.4 L1316.6,995.0 L1317.6,995.6 L1318.6,996.2 L1319.6,996.8 L1320.6,997.4 L1321.6,998.0 L1322.6,998.6 L1323.6,999.2 L1324.6,999.8 L1325.6,1000.4 L1326.6,1001.0 L1327.6,1001.6 L1328.6,1002.2 L1329.6,1002.8 L1330.6,1003.4 L1331.6,1004.0 L1332.6,1004.6 L1333.6,1005.2 L1334.6,1005.8 L1335.6,1006.4 L1336.6,1007.0 L1337.6,1007.6 L1338.6,1008.2 L1339.6,1008.8 L1340.6,1009.4 L1341.6,1010.0 L1342.6,1010.6 L1343.6,1011.2 L1344.6,1011.8 L1345.6,1012.4 L1346.6,1013.0 L1347.6,1013.6 L1348.6,1014.2 L1349.6,1014.8 L1350.6,1015.4 L1351.6,1016.0 L1352.6,1016.6 L1353.6,1017.2 L1354.6,1017.8 L1355.6,1018.4 L1356.6,1019.0 L1357.6,1019.6 L1358.6,1020.2 L1359.6,1020.8 L1360.6,1021.4 L1361.6,1022.0 L1362.6,1022.6 L1363.6,1023.2 L1364.6,1023.8 L1365.6,1024.4 L1366.6,1025.0 L1367.6,1025.6 L1368.6,1026.2 L1369.6,1026.8 L1370.6,1027.4 L1371.6,1028.0 L1372.6,1028.6 L1373.6,1029.2 L1374.6,1029.8 L1375.6,1030.3 L1376.6,1030.9 L1377.6,1031.5 L1378.6,1032.1 L1379.6,1032.6 L1380.6,1033.2 L1381.6,1033.7 L1382.6,1034.3 L1383.6,1034.9 L1384.6,1035.4 L1385.6,1036.0 L1386.6,1036.5 L1387.6,1037.1 L1388.6,1037.6 L1389.6,1038.2 L1390.6,1038.7 L1391.6,1039.3 L1392.6,1039.8 L1393.6,1040.3 L1394.6,1040.9 L1395.6,1041.4 L1396.6,1042.0 L1397.6,1042.5 L1398.6,1043.0 L1399.6,1043.6 L1400.6,1044.1 L1401.6,1044.6 L1402.6,1045.2 L1403.6,1045.7 L1404.6,1046.2 L1405.6,1046.8 L1406.6,1047.3 L1407.6,1047.8 L1408.6,1048.4 L1409.6,1048.9 L1410.6,1049.5 L1411.6,1050.0 L1412.6,1050.6 L1413.6,1051.2 L1414.6,1051.7 L1415.6,1052.3 L1416.6,1052.9 L1417.6,1053.5 L1418.6,1054.1 L1419.6,1054.7 L1420.6,1055.3 L1421.6,1055.9 L1422.6,1056.5 L1423.6,1057.1 L1424.6,1057.7 L1425.6,1058.3 L1426.6,1058.9 L1427.6,1059.5 L1428.6,1060.1 L1429.6,1060.7 L1430.6,1061.3 L1431.6,1061.9 L1432.6,1062.5 L1433.6,1063.1 L1434.6,1063.8 L1435.6,1064.4 L1436.6,1065.0 L1437.6,1065.6 L1438.6,1066.2 L1439.6,1066.8 L1440.6,1067.4 L1441.6,1068.0 L1442.6,1068.6 L1443.6,1069.2 L1444.6,1069.8 L1445.6,1070.4 L1446.6,1071.0 L1447.6,1071.6 L1448.6,1072.2 L1449.6,1072.8 L1450.6,1073.4 L1451.6,1074.0 L1452.6,1074.6 L1453.6,1075.2 L1454.6,1075.8 L1455.6,1076.4 L1456.6,1077.0 L1457.6,1077.6 L1458.6,1078.2 L1459.6,1078.8 L1460.6,1079.4 L1461.6,1080.0 L1462.6,1080.6 L1463.6,1081.3 L1464.6,1081.9 L1465.6,1082.5 L1466.6,1083.1 L1467.6,1083.7 L1468.6,1084.3 L1469.6,1084.9 L1470.6,1085.5 L1471.6,1086.1 L1472.6,1086.7 L1473.6,1087.3 L1474.6,1087.8 L1475.6,1088.4 L1476.6,1089.0 L1477.6,1089.5 L1478.6,1090.1 L1479.6,1090.6 L1480.6,1091.2 L1481.6,1091.7 L1482.6,1092.3 L1483.6,1092.8 L1484.6,1093.3 L1485.6,1093.9 L1486.6,1094.4 L1487.6,1094.9 L1488.6,1095.4 L1489.6,1095.9 L1490.6,1096.4 L1491.6,1096.9 L1492.6,1097.4 L1493.6,1097.9 L1494.6,1098.3 L1495.6,1098.8 L1496.6,1099.3 L1497.6,1099.7 L1498.6,1100.1 L1499.6,1100.6 L1500.6,1101.0 L1501.6,1101.4 L1502.6,1101.8 L1503.6,1102.2 L1504.6,1102.6 L1505.6,1103.0 L1506.6,1103.4 L1507.6,1103.7 L1508.6,1104.1 L1509.6,1104.4 L1510.6,1104.8 L1511.6,1105.1 L1512.6,1105.4 L1513.6,1105.7 L1514.6,1106.0 L1515.6,1106.3 L1516.6,1106.5 L1517.6,1106.8 L1518.6,1107.0 L1519.6,1107.3 L1520.6,1107.5 L1521.6,1107.7 L1522.6,1107.9 L1523.6,1108.1 L1524.6,1108.3 L1525.6,1108.5 L1526.6,1108.7 L1527.6,1108.8 L1528.6,1109.0 L1529.6,1109.1 L1530.6,1109.3 L1531.6,1109.4 L1532.6,1109.5 L1533.6,1109.6 L1534.6,1109.7 L1535.6,1109.8 L1536.6,1109.8 L1537.6,1109.9 L1538.6,1110.0 L1539.6,1110.0 L1540.6,1110.1 L1541.6,1110.2 L1542.6,1110.2 L1543.6,1110.3 L1544.6,1110.3 L1545.6,1110.4 L1546.6,1110.4 L1547.6,1110.5 L1548.6,1110.5 L1549.6,1110.6 L1550.6,1110.6 L1551.6,1110.7 L1552.6,1110.7 L1553.6,1110.7 L1554.6,1110.8 L1555.6,1110.8 L1556.6,1110.8 L1557.6,1110.8 L1558.6,1110.8 L1559.6,1110.9 L1560.6,1110.9 L1561.6,1110.9 L1562.6,1110.9 L1563.0,1110.9" stroke="#355c8e"/>
</g>
<line x1="396.5" y1="369.0" x2="422.3" y2="264.6" stroke="#000" stroke-width="2.8" stroke-dasharray="22 21"/><polygon points="430.0,233.5 432.0,248.0 430.6,268.7 413.1,264.3 421.5,245.4" fill="#000"/>
<line x1="406.7" y1="365.6" x2="515.0" y2="306.0" stroke="#e0101e" stroke-width="2.6" stroke-dasharray="22 21"/><polygon points="542.2,291.1 533.2,302.2 517.6,314.9 508.9,299.1 528.0,292.7" fill="#e0101e"/>
<line x1="407.0" y1="408.0" x2="407.0" y2="510.5" stroke="#2a66c4" stroke-width="3.2" stroke-dasharray="22 21"/><polygon points="407.0,540.5 402.2,527.7 399.0,508.5 415.0,508.5 411.8,527.7" fill="#2a66c4"/>
<line x1="627.6" y1="577.0" x2="627.6" y2="620.4" stroke="#2a66c4" stroke-width="3.4" stroke-dasharray="22 21"/><polygon points="627.6,649.4 622.8,637.0 619.6,618.4 635.6,618.4 632.4,637.0" fill="#2a66c4"/>
<line x1="660.2" y1="530.0" x2="660.2" y2="715.6" stroke="#e0101e" stroke-width="3.6" stroke-dasharray="21 23"/><polygon points="660.2,749.6 655.3,735.2 652.0,713.6 668.4,713.6 665.1,735.2" fill="#e0101e"/>
<line x1="722.9" y1="501.0" x2="722.9" y2="807.0" stroke="#000" stroke-width="4.4" stroke-dasharray="20.5 23.3"/><polygon points="722.9,841.0 717.8,826.6 714.4,805.0 731.4,805.0 728.0,826.6" fill="#000"/>
<g font-family="'Liberation Serif', 'Times New Roman', serif" font-weight="bold" font-size="49" text-anchor="middle" fill="#000">
<text x="218.0" y="1225.5">0</text>
<text x="462.7" y="1225.5">200</text>
<text x="707.4" y="1225.5">400</text>
<text x="952.0" y="1225.5">600</text>
<text x="1196.7" y="1225.5">800</text>
<text x="1441.4" y="1225.5">1000</text>
</g>
<g font-family="'Liberation Serif', 'Times New Roman', serif" font-weight="bold" font-size="53" text-anchor="end" fill="#000">
<text x="194" y="149.1">0</text>
<text x="194" y="406.2">-5</text>
<text x="194" y="663.3">-10</text>
<text x="194" y="920.4">-15</text>
<text x="194" y="1177.5">-20</text>
</g>
<g font-family="'Liberation Serif', 'Times New Roman', serif" font-weight="bold" font-size="47" fill="#000">
<text x="370.0" y="221.6">145.8°C</text>
<text x="551.4" y="297.5">153.6°C</text>
<text x="352.4" y="584.5">154.4°C</text>
<text x="477.4" y="690.8">337.2°C</text>
<text x="543.6" y="799.5">360.3°C</text>
<text x="656.4" y="892.8">414.5°C</text>
</g>
<g stroke-width="3.8">
<line x1="1291.4" y1="109.8" x2="1404.8" y2="109.8" stroke="#474747"/>
<line x1="1291.4" y1="177.8" x2="1404.8" y2="177.8" stroke="#cf3a4f"/>
<line x1="1291.4" y1="245.8" x2="1404.8" y2="245.8" stroke="#30597f"/>
</g>
<g font-family="'Liberation Serif', 'Times New Roman', serif" font-weight="bold" font-size="46" fill="#000" letter-spacing="1.2">
<text x="1419" y="126.0">1 A/dm<tspan font-size="30" x="1569.5" y="106.7">2</tspan></text>
<text x="1419" y="193.8">3 A/dm<tspan font-size="30" x="1569.5" y="174.5">2</tspan></text>
<text x="1419" y="261.6">5 A/dm<tspan font-size="30" x="1569.5" y="242.3">2</tspan></text>
</g>
<text font-family="'Liberation Serif', 'Times New Roman', serif" font-weight="bold" font-size="59.6" x="750" y="1313.2" fill="#000">Temperature/°C</text>
<g font-family="'Liberation Serif', 'Times New Roman', serif" font-weight="bold" font-size="58.4" fill="#000">
<text transform="translate(77,973) rotate(-90)">&lt;endo</text>
<text transform="translate(77,770.2) rotate(-90)">DSC/(mW/mg)</text>
<text transform="translate(77,343.5) rotate(-90)">exo&gt;</text>
</g>
</svg>
</body></html>
